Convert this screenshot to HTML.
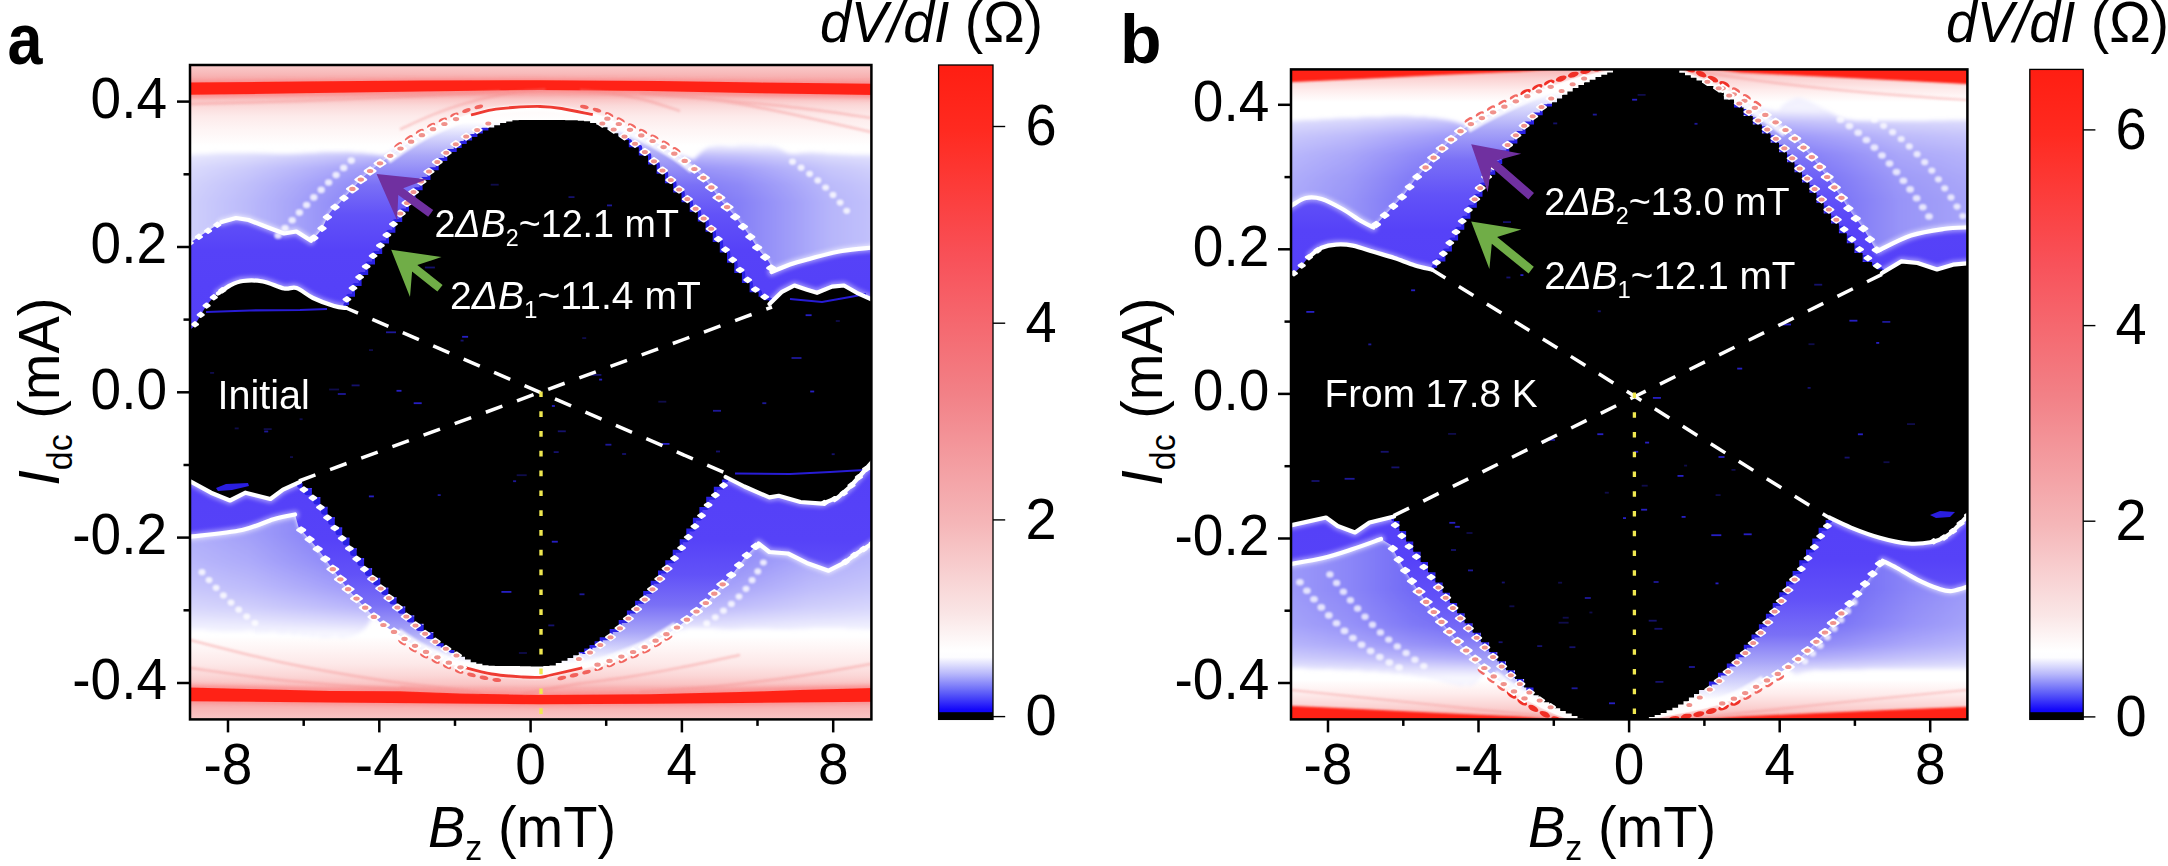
<!DOCTYPE html>
<html lang="en"><head><meta charset="utf-8"><title>dV/dI maps</title>
<style>html,body{margin:0;padding:0;background:#fff;}svg{display:block;}</style></head>
<body>
<svg width="2168" height="866" viewBox="0 0 2168 866">
<defs>
<linearGradient id="cbg" x1="0" y1="0" x2="0" y2="1"><stop offset="0" stop-color="#ff1e12"/><stop offset="0.10" stop-color="#ff2a20"/><stop offset="0.30" stop-color="#f8525a"/><stop offset="0.50" stop-color="#f28086"/><stop offset="0.70" stop-color="#f5b6b8"/><stop offset="0.84" stop-color="#fae6e6"/><stop offset="0.895" stop-color="#ffffff"/><stop offset="0.905" stop-color="#fdfdff"/><stop offset="0.93" stop-color="#b9b9fb"/><stop offset="0.96" stop-color="#5c5cf8"/><stop offset="0.985" stop-color="#1408fa"/><stop offset="1" stop-color="#0000f0"/></linearGradient>
<filter id="b2" x="-10%" y="-10%" width="120%" height="120%"><feGaussianBlur stdDeviation="2"/></filter><filter id="b1" x="-10%" y="-10%" width="120%" height="120%"><feGaussianBlur stdDeviation="1"/></filter><filter id="b05" x="-10%" y="-10%" width="120%" height="120%"><feGaussianBlur stdDeviation="0.6"/></filter><filter id="b4" x="-10%" y="-10%" width="120%" height="120%"><feGaussianBlur stdDeviation="4"/></filter><filter id="b6" x="-10%" y="-10%" width="120%" height="120%"><feGaussianBlur stdDeviation="6"/></filter><linearGradient id="bgA" gradientUnits="userSpaceOnUse" x1="0" y1="65" x2="0" y2="719.4"><stop offset="0.0000" stop-color="#f9cccc"/><stop offset="0.0138" stop-color="#f8b8b8"/><stop offset="0.0260" stop-color="#f7a4a4"/><stop offset="0.0458" stop-color="#f8b0b0"/><stop offset="0.0535" stop-color="#fac8c8"/><stop offset="0.0627" stop-color="#fbdada"/><stop offset="0.0779" stop-color="#fdeaea"/><stop offset="0.0993" stop-color="#fef5f5"/><stop offset="0.1238" stop-color="#ffffff"/><stop offset="0.8726" stop-color="#ffffff"/><stop offset="0.8939" stop-color="#fef4f4"/><stop offset="0.9153" stop-color="#fde8e8"/><stop offset="0.9337" stop-color="#fbd6d6"/><stop offset="0.9459" stop-color="#fac4c4"/><stop offset="0.9520" stop-color="#f8b0b0"/><stop offset="0.9749" stop-color="#f8aaaa"/><stop offset="0.9856" stop-color="#f9b8b8"/><stop offset="1.0000" stop-color="#fac6c6"/></linearGradient><linearGradient id="bandAU" gradientUnits="userSpaceOnUse" x1="0" y1="100" x2="0" y2="320"><stop offset="0.0000" stop-color="#fff4f4"/><stop offset="0.1000" stop-color="#ffffff"/><stop offset="0.1636" stop-color="#d8d8fc"/><stop offset="0.2545" stop-color="#a9a6f8"/><stop offset="0.3864" stop-color="#7a70f6"/><stop offset="0.5227" stop-color="#6252f8"/><stop offset="0.6818" stop-color="#5642f8"/><stop offset="1.0000" stop-color="#5440f8"/></linearGradient><linearGradient id="bandAL" gradientUnits="userSpaceOnUse" x1="0" y1="470" x2="0" y2="690"><stop offset="0.0000" stop-color="#5440f8"/><stop offset="0.3182" stop-color="#5642f8"/><stop offset="0.4773" stop-color="#6252f8"/><stop offset="0.6136" stop-color="#7a70f6"/><stop offset="0.7364" stop-color="#a9a6f8"/><stop offset="0.8182" stop-color="#d8d8fc"/><stop offset="0.8818" stop-color="#ffffff"/><stop offset="1.0000" stop-color="#fff0f0"/></linearGradient><linearGradient id="lbAUL" gradientUnits="userSpaceOnUse" x1="190" y1="0" x2="400" y2="0"><stop offset="0.0000" stop-color="#cfcffc"/><stop offset="0.2619" stop-color="#bcbbfa"/><stop offset="0.5000" stop-color="#a6a3f9"/><stop offset="0.7381" stop-color="#8e89f8"/><stop offset="1.0000" stop-color="#7771f6"/></linearGradient><linearGradient id="lbAUR" gradientUnits="userSpaceOnUse" x1="690" y1="0" x2="871" y2="0"><stop offset="0.0000" stop-color="#7770f6"/><stop offset="0.2762" stop-color="#8680f7"/><stop offset="0.5525" stop-color="#a09df9"/><stop offset="0.7735" stop-color="#b6b5fa"/><stop offset="1.0000" stop-color="#c2c1fb"/></linearGradient><linearGradient id="lbALL" gradientUnits="userSpaceOnUse" x1="190" y1="0" x2="380" y2="0"><stop offset="0.0000" stop-color="#b0aefa"/><stop offset="0.3158" stop-color="#a29ff9"/><stop offset="0.6316" stop-color="#8a85f8"/><stop offset="1.0000" stop-color="#6c64f6"/></linearGradient><linearGradient id="lbALR" gradientUnits="userSpaceOnUse" x1="680" y1="0" x2="871" y2="0"><stop offset="0.0000" stop-color="#6c64f6"/><stop offset="0.3665" stop-color="#8a85f8"/><stop offset="0.6806" stop-color="#a29ff9"/><stop offset="1.0000" stop-color="#b0aefa"/></linearGradient><linearGradient id="lbBLL" gradientUnits="userSpaceOnUse" x1="1291" y1="0" x2="1480" y2="0"><stop offset="0.0000" stop-color="#9c99f9"/><stop offset="0.3122" stop-color="#8b86f8"/><stop offset="0.6296" stop-color="#726bf6"/><stop offset="1.0000" stop-color="#5f56f5"/></linearGradient><linearGradient id="lbBLR" gradientUnits="userSpaceOnUse" x1="1790" y1="0" x2="1967" y2="0"><stop offset="0.0000" stop-color="#5f56f5"/><stop offset="0.3390" stop-color="#726bf6"/><stop offset="0.6780" stop-color="#8b86f8"/><stop offset="1.0000" stop-color="#9c99f9"/></linearGradient><linearGradient id="fadeDown" x1="0" y1="0" x2="0" y2="1"><stop offset="0" stop-color="#fff" stop-opacity="0"/><stop offset="1" stop-color="#fff" stop-opacity="0.9"/></linearGradient><linearGradient id="fadeUp" x1="0" y1="0" x2="0" y2="1"><stop offset="0" stop-color="#fff" stop-opacity="0.9"/><stop offset="1" stop-color="#fff" stop-opacity="0"/></linearGradient><linearGradient id="bgB" gradientUnits="userSpaceOnUse" x1="0" y1="69.4" x2="0" y2="719.4"><stop offset="0.0000" stop-color="#f9b4b4"/><stop offset="0.0148" stop-color="#fbd4d4"/><stop offset="0.0317" stop-color="#feecec"/><stop offset="0.0502" stop-color="#ffffff"/><stop offset="0.9394" stop-color="#ffffff"/><stop offset="0.9609" stop-color="#feecec"/><stop offset="0.9794" stop-color="#fbd4d4"/><stop offset="1.0000" stop-color="#f9b0b0"/></linearGradient><linearGradient id="bandBU" gradientUnits="userSpaceOnUse" x1="0" y1="70" x2="0" y2="300"><stop offset="0.0000" stop-color="#fff0f0"/><stop offset="0.0957" stop-color="#ffffff"/><stop offset="0.1652" stop-color="#d8d8fc"/><stop offset="0.2609" stop-color="#a9a6f8"/><stop offset="0.3913" stop-color="#7a70f6"/><stop offset="0.5435" stop-color="#6252f8"/><stop offset="0.6957" stop-color="#5642f8"/><stop offset="1.0000" stop-color="#5440f8"/></linearGradient><linearGradient id="bandBL" gradientUnits="userSpaceOnUse" x1="0" y1="500" x2="0" y2="719"><stop offset="0.0000" stop-color="#5440f8"/><stop offset="0.2740" stop-color="#5642f8"/><stop offset="0.4566" stop-color="#6252f8"/><stop offset="0.6164" stop-color="#7a70f6"/><stop offset="0.7397" stop-color="#a9a6f8"/><stop offset="0.8402" stop-color="#d8d8fc"/><stop offset="0.9132" stop-color="#ffffff"/><stop offset="1.0000" stop-color="#fff0f0"/></linearGradient><linearGradient id="lbBUL" gradientUnits="userSpaceOnUse" x1="1291" y1="0" x2="1470" y2="0"><stop offset="0.0000" stop-color="#aaa8fa"/><stop offset="0.3296" stop-color="#9894f8"/><stop offset="0.6648" stop-color="#7b74f7"/><stop offset="1.0000" stop-color="#625af6"/></linearGradient><linearGradient id="lbBUR" gradientUnits="userSpaceOnUse" x1="1780" y1="0" x2="1967" y2="0"><stop offset="0.0000" stop-color="#625af6"/><stop offset="0.3209" stop-color="#7b74f7"/><stop offset="0.6417" stop-color="#9894f8"/><stop offset="1.0000" stop-color="#a6a3f9"/></linearGradient><linearGradient id="fadeAU" gradientUnits="userSpaceOnUse" x1="0" y1="146" x2="0" y2="202"><stop offset="0.000" stop-color="#fff" stop-opacity="0.88"/><stop offset="0.179" stop-color="#fff" stop-opacity="0.5"/><stop offset="0.393" stop-color="#fff" stop-opacity="0.24"/><stop offset="0.679" stop-color="#fff" stop-opacity="0.08"/><stop offset="1.000" stop-color="#fff" stop-opacity="0.0"/></linearGradient><linearGradient id="fadeAL" gradientUnits="userSpaceOnUse" x1="0" y1="535" x2="0" y2="634"><stop offset="0.000" stop-color="#fff" stop-opacity="0.0"/><stop offset="0.273" stop-color="#fff" stop-opacity="0.12"/><stop offset="0.535" stop-color="#fff" stop-opacity="0.3"/><stop offset="0.737" stop-color="#fff" stop-opacity="0.5"/><stop offset="0.889" stop-color="#fff" stop-opacity="0.75"/><stop offset="1.000" stop-color="#fff" stop-opacity="0.95"/></linearGradient><linearGradient id="fadeBU" gradientUnits="userSpaceOnUse" x1="0" y1="110" x2="0" y2="200"><stop offset="0.000" stop-color="#fff" stop-opacity="0.92"/><stop offset="0.133" stop-color="#fff" stop-opacity="0.6"/><stop offset="0.289" stop-color="#fff" stop-opacity="0.36"/><stop offset="0.489" stop-color="#fff" stop-opacity="0.18"/><stop offset="0.756" stop-color="#fff" stop-opacity="0.06"/><stop offset="1.000" stop-color="#fff" stop-opacity="0.0"/></linearGradient><linearGradient id="fadeBL" gradientUnits="userSpaceOnUse" x1="0" y1="590" x2="0" y2="677"><stop offset="0.000" stop-color="#fff" stop-opacity="0.0"/><stop offset="0.402" stop-color="#fff" stop-opacity="0.1"/><stop offset="0.632" stop-color="#fff" stop-opacity="0.28"/><stop offset="0.793" stop-color="#fff" stop-opacity="0.52"/><stop offset="0.908" stop-color="#fff" stop-opacity="0.78"/><stop offset="1.000" stop-color="#fff" stop-opacity="0.95"/></linearGradient>
<clipPath id="clipA"><rect x="190.0" y="65.0" width="681.4" height="654.4"/></clipPath>
<clipPath id="clipB"><rect x="1291.0" y="69.4" width="676.4" height="650.0"/></clipPath>
</defs>
<rect width="2168" height="866" fill="#fff"/>
<g clip-path="url(#clipA)"><rect x="190.0" y="65.0" width="681.4" height="654.4" fill="url(#bgA)"/><g fill="#f77" opacity="0.55" filter="url(#b2)"><path d="M186.0 81.1L300.0 80.1L420.0 79.1L540.0 78.7L660.0 79.5L760.0 81.1L875.0 82.2L875.0 98.0L760.0 96.2L650.0 94.0L540.0 92.9L420.0 94.5L300.0 96.3L186.0 97.9Z"/><path d="M186.0 702.7L330.0 703.9L450.0 705.0L540.0 705.7L650.0 705.3L740.0 704.5L875.0 703.3L875.0 684.9L800.0 687.0L740.0 689.1L650.0 691.3L540.0 692.0L460.0 690.6L400.0 688.2L330.0 688.0L260.0 686.2L186.0 684.4Z"/></g><g fill="#ff2216" filter="url(#b05)"><path d="M186.0 82.6L300.0 81.6L420.0 80.6L540.0 80.2L660.0 81.0L760.0 82.6L875.0 83.7L875.0 95.0L760.0 93.2L650.0 91.0L540.0 89.9L420.0 91.5L300.0 93.3L186.0 94.9Z"/><path d="M186.0 701.2L330.0 702.4L450.0 703.5L540.0 704.2L650.0 703.8L740.0 703.0L875.0 701.8L875.0 687.9L800.0 690.0L740.0 692.1L650.0 694.3L540.0 695.0L460.0 693.6L400.0 691.2L330.0 691.0L260.0 689.2L186.0 687.4Z"/></g><g fill="none" stroke="#f58a8a" stroke-width="2.4" opacity="0.4" filter="url(#b1)"><path d="M400.0 129.5C405.3 127.1 421.2 119.3 432.0 115.0C442.8 110.7 451.2 107.4 464.7 103.6C478.2 99.8 499.5 94.6 513.0 92.3C526.5 90.0 540.1 90.0 545.5 89.5"/><path d="M680.0 111.0C674.2 109.2 656.7 103.0 645.0 100.0C633.3 97.0 620.8 94.7 610.0 93.0C599.2 91.3 585.0 90.5 580.0 90.0"/><path d="M190.0 104.0C208.3 103.5 261.7 102.3 300.0 101.0C338.3 99.7 386.7 97.7 420.0 96.0C453.3 94.3 486.7 91.8 500.0 91.0"/><path d="M871.0 118.0C859.2 116.3 825.2 111.0 800.0 108.0C774.8 105.0 746.7 102.5 720.0 100.0C693.3 97.5 653.3 94.2 640.0 93.0"/><path d="M871.0 132.0C859.2 129.3 821.8 120.7 800.0 116.0C778.2 111.3 758.3 107.2 740.0 104.0C721.7 100.8 698.3 98.2 690.0 97.0"/><path d="M523.0 693.5C532.2 691.9 560.8 686.5 578.0 683.8C595.2 681.1 609.3 680.0 626.3 677.3C643.3 674.6 661.0 671.3 680.0 667.6C699.0 663.9 730.0 657.1 740.0 655.0"/><path d="M400.0 687.0C406.7 687.6 426.7 689.6 440.0 690.5C453.3 691.4 473.3 692.2 480.0 692.5"/><path d="M190.0 640.0C205.0 643.7 248.3 655.3 280.0 662.0C311.7 668.7 348.3 675.2 380.0 680.0C411.7 684.8 455.0 689.2 470.0 691.0"/><path d="M190.0 668.0C205.0 670.0 248.3 676.7 280.0 680.0C311.7 683.3 353.3 686.2 380.0 688.0C406.7 689.8 430.0 690.5 440.0 691.0"/><path d="M871.0 664.0C859.2 666.0 825.2 672.3 800.0 676.0C774.8 679.7 746.7 683.3 720.0 686.0C693.3 688.7 653.3 691.0 640.0 692.0"/></g><g filter="url(#b2)"><path d="M180.0 156.0C188.3 155.5 211.7 153.3 230.0 153.0C248.3 152.7 271.7 154.2 290.0 154.0C308.3 153.8 324.2 151.7 340.0 152.0C355.8 152.3 377.5 155.3 385.0 156.0L429.5 131.0L406.6 144.5L387.9 157.5L371.3 170.0L360.9 179.5L350.5 191.0L340.0 202.4L329.7 213.0L321.4 229.4L311.0 240.8L311.0 240.8L296.4 231.5L284.0 233.5L267.3 227.3L248.6 220.0L236.0 218.0L221.6 222.0L207.0 231.5L188.0 244.0Z" fill="url(#lbAUL)"/><path d="M694.0 160.0C695.8 158.3 701.0 152.2 705.0 150.0C709.0 147.8 707.2 147.1 718.0 146.5C728.8 145.9 757.5 145.2 769.5 146.5C781.5 147.8 783.1 153.0 790.0 154.0C796.9 155.0 802.3 152.6 811.0 152.7C819.7 152.8 830.5 154.4 842.0 154.8C853.5 155.2 873.7 155.0 880.0 155.0L873.0 247.5L842.0 251.0L811.0 258.5L790.0 264.5L771.6 272.0L771.6 272.0L769.5 262.7L759.0 250.0L746.6 231.5L732.0 212.8L719.6 198.5L707.0 181.8L692.5 167.3L676.0 154.8Z" fill="url(#lbAUR)"/><path d="M180.0 630.0C195.6 630.3 247.5 630.8 273.5 632.0C299.5 633.2 321.2 637.3 336.0 637.0C350.8 636.7 356.0 633.5 362.0 630.0C368.0 626.5 370.3 618.3 372.0 616.0L379.5 622.0L364.0 606.5L348.3 589.4L332.7 569.0L320.0 552.0L311.0 541.0L298.5 527.0L295.0 514.5L295.0 514.5L273.5 519.2L242.0 530.0L188.0 537.0Z" fill="url(#lbALL)"/><path d="M672.0 632.0C675.0 631.3 675.3 628.5 690.0 628.0C704.7 627.5 738.3 629.0 760.0 629.0C781.7 629.0 800.0 628.0 820.0 628.0C840.0 628.0 870.0 628.8 880.0 629.0L873.0 543.0L856.7 553.5L844.0 562.9L828.6 570.7L806.8 562.9L788.0 553.5L769.4 552.0L758.5 543.5L758.5 543.5L744.4 558.0L735.0 570.7L719.5 587.8L707.0 601.8L691.4 615.9L675.9 628.3Z" fill="url(#lbALR)"/><path d="M180.0 156.0C188.3 155.5 211.7 153.3 230.0 153.0C248.3 152.7 271.7 154.2 290.0 154.0C308.3 153.8 324.2 151.7 340.0 152.0C355.8 152.3 377.5 155.3 385.0 156.0L429.5 131.0L406.6 144.5L387.9 157.5L371.3 170.0L360.9 179.5L350.5 191.0L340.0 202.4L329.7 213.0L321.4 229.4L311.0 240.8L311.0 240.8L296.4 231.5L284.0 233.5L267.3 227.3L248.6 220.0L236.0 218.0L221.6 222.0L207.0 231.5L188.0 244.0Z" fill="url(#fadeAU)"/><path d="M694.0 160.0C695.8 158.3 701.0 152.2 705.0 150.0C709.0 147.8 707.2 147.1 718.0 146.5C728.8 145.9 757.5 145.2 769.5 146.5C781.5 147.8 783.1 153.0 790.0 154.0C796.9 155.0 802.3 152.6 811.0 152.7C819.7 152.8 830.5 154.4 842.0 154.8C853.5 155.2 873.7 155.0 880.0 155.0L873.0 247.5L842.0 251.0L811.0 258.5L790.0 264.5L771.6 272.0L771.6 272.0L769.5 262.7L759.0 250.0L746.6 231.5L732.0 212.8L719.6 198.5L707.0 181.8L692.5 167.3L676.0 154.8Z" fill="url(#fadeAU)"/><path d="M180.0 630.0C195.6 630.3 247.5 630.8 273.5 632.0C299.5 633.2 321.2 637.3 336.0 637.0C350.8 636.7 356.0 633.5 362.0 630.0C368.0 626.5 370.3 618.3 372.0 616.0L379.5 622.0L364.0 606.5L348.3 589.4L332.7 569.0L320.0 552.0L311.0 541.0L298.5 527.0L295.0 514.5L295.0 514.5L273.5 519.2L242.0 530.0L188.0 537.0Z" fill="url(#fadeAL)"/><path d="M672.0 632.0C675.0 631.3 675.3 628.5 690.0 628.0C704.7 627.5 738.3 629.0 760.0 629.0C781.7 629.0 800.0 628.0 820.0 628.0C840.0 628.0 870.0 628.8 880.0 629.0L873.0 543.0L856.7 553.5L844.0 562.9L828.6 570.7L806.8 562.9L788.0 553.5L769.4 552.0L758.5 543.5L758.5 543.5L744.4 558.0L735.0 570.7L719.5 587.8L707.0 601.8L691.4 615.9L675.9 628.3Z" fill="url(#fadeAL)"/></g><path d="M188.0 244.0L207.0 231.5L221.6 222.0L236.0 218.0L248.6 220.0L267.3 227.3L284.0 233.5L296.4 231.5L311.0 240.8L311.0 240.8C312.7 238.9 318.3 234.0 321.4 229.4C324.5 224.8 326.6 217.5 329.7 213.0C332.8 208.5 336.5 206.1 340.0 202.4C343.5 198.7 347.0 194.8 350.5 191.0C354.0 187.2 357.4 183.0 360.9 179.5C364.4 176.0 366.8 173.7 371.3 170.0C375.8 166.3 382.0 161.8 387.9 157.5C393.8 153.2 399.7 148.9 406.6 144.5C413.5 140.1 422.2 134.8 429.5 131.0C436.8 127.2 443.4 124.4 450.3 121.5C457.2 118.6 464.1 115.7 471.0 113.5C477.9 111.3 484.9 109.5 491.8 108.3C498.7 107.0 504.6 106.5 512.6 106.0C520.6 105.5 535.4 105.2 540.0 105.0L561.6 107.0C566.8 108.0 584.1 110.8 592.8 113.2C601.5 115.6 606.7 118.4 613.6 121.5C620.5 124.6 627.4 128.5 634.3 132.0C641.2 135.5 648.0 138.5 655.0 142.3C662.0 146.1 669.8 150.6 676.0 154.8C682.2 159.0 687.3 162.8 692.5 167.3C697.7 171.8 702.5 176.6 707.0 181.8C711.5 187.0 715.4 193.3 719.6 198.5C723.8 203.7 727.5 207.3 732.0 212.8C736.5 218.3 742.1 225.3 746.6 231.5C751.1 237.7 755.2 244.8 759.0 250.0C762.8 255.2 767.4 259.0 769.5 262.7C771.6 266.4 771.2 270.4 771.6 272.0L790.0 264.5C793.5 263.5 802.3 260.8 811.0 258.5C819.7 256.2 831.7 252.8 842.0 251.0C852.3 249.2 867.8 248.1 873.0 247.5L873.0 330.0L188.0 330.0Z" fill="url(#bandAU)"/><path d="M188.0 537.0C197.0 535.8 227.8 533.0 242.0 530.0C256.2 527.0 264.7 521.8 273.5 519.2C282.3 516.6 291.4 515.3 295.0 514.5L298.5 527.0C300.6 529.3 307.4 536.8 311.0 541.0C314.6 545.2 316.4 547.3 320.0 552.0C323.6 556.7 328.0 562.8 332.7 569.0C337.4 575.2 343.1 583.1 348.3 589.4C353.5 595.6 358.8 601.1 364.0 606.5C369.2 611.9 373.8 617.3 379.5 622.0C385.2 626.7 391.9 630.4 398.2 634.6C404.4 638.8 410.8 643.4 417.0 647.0C423.2 650.6 428.4 653.0 435.6 656.4C442.9 659.8 451.1 664.2 460.5 667.3C469.9 670.4 481.3 673.2 491.7 675.0C502.1 676.8 515.0 677.5 523.0 678.0C531.0 678.5 537.2 678.2 540.0 678.3L551.0 676.0C556.2 674.8 571.9 671.6 582.3 668.9C592.7 666.1 603.1 663.1 613.5 659.5C623.9 655.9 636.9 650.6 644.7 647.0C652.5 643.4 655.1 640.8 660.3 637.7C665.5 634.6 670.7 631.9 675.9 628.3C681.1 624.7 686.2 620.3 691.4 615.9C696.6 611.5 702.3 606.5 707.0 601.8C711.7 597.1 714.8 593.0 719.5 587.8C724.2 582.6 730.9 575.7 735.0 570.7C739.1 565.7 740.5 562.5 744.4 558.0C748.3 553.5 756.1 545.9 758.5 543.5L769.4 552.0L788.0 553.5L806.8 562.9L828.6 570.7L844.0 562.9L856.7 553.5L873.0 543.0L873.0 470.0L188.0 470.0Z" fill="url(#bandAL)"/><g fill="none" stroke="#fff" stroke-width="8" stroke-linejoin="round" stroke-linecap="round" opacity="0.45" filter="url(#b2)"><path d="M218.0 293.5C220.0 292.2 225.8 287.6 230.0 285.5C234.2 283.4 237.5 281.7 243.0 281.0C248.5 280.3 256.2 280.2 263.0 281.5C269.8 282.8 278.4 287.4 284.0 288.5C289.6 289.6 291.7 286.4 296.5 288.0C301.3 289.6 306.8 295.0 313.0 298.0C319.2 301.0 328.4 304.3 334.0 306.0C339.6 307.7 344.2 307.7 346.3 308.0"/><path d="M769.5 304.0L782.0 291.8L794.4 285.5L807.0 289.7L817.0 292.8L832.0 286.6L844.0 285.5L856.8 292.8L873.0 300.0"/><path d="M873.0 461.0L862.9 472.5L850.4 486.5L838.0 497.4L822.4 503.6L800.5 502.0L778.7 495.8L769.4 497.4L744.4 486.5L725.7 477.0"/><path d="M300.0 481.8L283.0 489.6L270.4 499.0L245.5 492.7L230.0 500.5L211.0 492.7L188.0 480.0"/><path d="M221.6 222.0L236.0 218.0L248.6 220.0L267.3 227.3L284.0 233.5L296.4 231.5L311.0 240.8"/><path d="M771.6 272.0C774.7 270.8 783.4 266.8 790.0 264.5C796.6 262.2 802.3 260.8 811.0 258.5C819.7 256.2 831.7 252.8 842.0 251.0C852.3 249.2 867.8 248.1 873.0 247.5"/><path d="M188.0 537.0C197.0 535.8 227.8 533.0 242.0 530.0C256.2 527.0 264.7 521.8 273.5 519.2C282.3 516.6 291.4 515.3 295.0 514.5"/><path d="M758.5 543.5L769.4 552.0L788.0 553.5L806.8 562.9L828.6 570.7L844.0 562.9L856.7 553.5L873.0 543.0"/></g><g fill="none" stroke="#ffffff" stroke-width="7" opacity="0.8" filter="url(#b1)"><path d="M387.9 160.5C391.0 158.3 399.7 151.9 406.6 147.5C413.5 143.1 422.2 137.8 429.5 134.0C436.8 130.2 443.4 127.4 450.3 124.5C457.2 121.6 464.1 118.7 471.0 116.5C477.9 114.3 484.9 112.5 491.8 111.3C498.7 110.0 504.6 109.5 512.6 109.0C520.6 108.5 531.8 107.8 540.0 108.0C548.2 108.2 552.8 108.6 561.6 110.0C570.4 111.4 584.1 113.8 592.8 116.2C601.5 118.6 606.7 121.4 613.6 124.5C620.5 127.6 627.4 131.5 634.3 135.0C641.2 138.5 648.0 141.5 655.0 145.3C662.0 149.1 669.8 153.6 676.0 157.8C682.2 162.0 689.8 168.2 692.5 170.3"/><path d="M398.2 631.6C401.3 633.7 410.8 640.4 417.0 644.0C423.2 647.6 428.4 650.0 435.6 653.4C442.9 656.8 451.1 661.2 460.5 664.3C469.9 667.4 481.3 670.2 491.7 672.0C502.1 673.8 515.0 674.5 523.0 675.0C531.0 675.5 535.3 675.6 540.0 675.3C544.7 675.0 544.0 674.6 551.0 673.0C558.0 671.4 571.9 668.6 582.3 665.9C592.7 663.1 603.1 660.1 613.5 656.5C623.9 652.9 636.9 647.6 644.7 644.0C652.5 640.4 655.1 637.8 660.3 634.7C665.5 631.6 673.3 626.9 675.9 625.3"/></g><path d="M346.3 308.0L346.3 305.2L349.1 305.2L349.1 302.4L349.1 296.8L355.0 296.8L355.0 291.2L355.0 285.9L361.6 285.9L361.6 280.5L361.6 275.1L368.2 275.1L368.2 269.8L368.2 264.5L375.0 264.5L375.0 259.1L375.0 254.0L382.2 254.0L382.2 248.8L382.2 243.5L389.0 243.5L389.0 238.2L389.0 232.8L395.4 232.8L395.4 227.3L395.4 222.0L402.2 222.0L402.2 216.7L402.2 211.4L409.0 211.4L409.0 206.2L409.0 200.7L415.5 200.7L415.5 195.3L415.5 190.2L422.6 190.2L422.6 185.0L422.6 180.0L430.5 180.0L430.5 175.1L430.5 170.3L438.7 170.3L438.7 165.6L438.7 161.0L447.3 161.0L447.3 156.4L447.3 152.1L456.7 152.1L456.7 147.9L461.7 147.9L461.7 144.1L466.7 144.1L466.7 140.4L472.1 140.4L472.1 137.1L477.4 137.1L477.4 133.7L482.6 133.7L482.6 130.8L487.7 130.8L487.7 127.8M624.0 140.2L626.6 140.2L626.6 142.0L629.1 142.0L629.1 143.9L629.1 147.7L639.2 147.7L639.2 151.5L639.2 155.8L648.3 155.8L648.3 160.1L648.3 164.7L656.9 164.7L656.9 169.4L656.9 174.1L665.2 174.1L665.2 178.8L665.2 183.5L673.5 183.5L673.5 188.3L673.5 193.0L681.8 193.0L681.8 197.8L681.8 202.6L690.0 202.6L690.0 207.4L690.0 212.2L698.1 212.2L698.1 217.0L698.1 222.0L705.8 222.0L705.8 227.0L705.8 232.2L713.0 232.2L713.0 237.4L713.0 242.5L720.1 242.5L720.1 247.7L720.1 252.9L727.3 252.9L727.3 258.1L727.3 263.2L734.6 263.2L734.6 268.3L734.6 273.4L742.2 273.4L742.2 278.4L742.2 283.4L749.9 283.4L749.9 288.4L749.9 292.7L759.0 292.7L759.0 297.0L764.3 297.0L764.3 300.5L769.5 300.5L769.5 304.0L769.5 304.0L769.5 304.0L769.5 304.0L769.5 304.0M725.7 477.0L725.7 479.5L721.9 479.5L721.9 482.0L721.9 486.8L713.8 486.8L713.8 491.7L713.8 496.7L706.2 496.7L706.2 501.7L706.2 507.0L699.4 507.0L699.4 512.3L699.4 517.7L692.9 517.7L692.9 523.1L692.9 528.5L686.3 528.5L686.3 533.8L686.3 539.2L679.7 539.2L679.7 544.6L679.7 549.8L672.7 549.8L672.7 555.1L672.7 560.2L665.3 560.2L665.3 565.3L665.3 570.4L658.0 570.4L658.0 575.5L658.0 580.7L650.7 580.7L650.7 585.8L650.7 590.9L643.2 590.9L643.2 595.9L643.2 600.8L635.1 600.8L635.1 605.6L635.1 610.4L626.9 610.4L626.9 615.1L626.9 619.9L618.7 619.9L618.7 624.7L618.7 629.1L609.7 629.1L609.7 633.5L609.7 637.3L599.7 637.3L599.7 641.2L594.5 641.2L594.5 644.8L589.4 644.8L589.4 648.5L585.9 648.5L585.9 650.9L582.3 650.9L582.3 653.3M454.3 650.0L451.6 650.0L451.6 648.3L449.0 648.3L449.0 646.6L443.7 646.6L443.7 643.2L438.4 643.2L438.4 639.7L438.4 635.9L428.4 635.9L428.4 632.1L428.4 627.9L418.9 627.9L418.9 623.8L418.9 619.5L409.7 619.5L409.7 615.2L409.7 610.7L400.9 610.7L400.9 606.2L400.9 601.6L392.4 601.6L392.4 596.9L392.4 592.1L384.3 592.1L384.3 587.3L384.3 582.5L376.1 582.5L376.1 577.7L376.1 572.9L368.0 572.9L368.0 568.0L368.0 563.1L360.3 563.1L360.3 558.1L360.3 552.9L353.1 552.9L353.1 547.8L353.1 542.6L345.8 542.6L345.8 537.5L345.8 532.3L338.5 532.3L338.5 527.2L338.5 522.1L331.1 522.1L331.1 517.0L331.1 511.8L324.0 511.8L324.0 506.6L324.0 501.6L316.3 501.6L316.3 496.6L316.3 492.3L307.2 492.3L307.2 487.9L307.2 484.9L300.0 484.9L300.0 481.8" fill="none" stroke="#2c20e4" stroke-width="6" stroke-linejoin="round" filter="url(#b05)"/><path d="M188.0 330.0C189.0 329.3 190.8 330.2 194.0 326.0C197.2 321.8 203.0 310.4 207.0 305.0C211.0 299.6 214.2 296.8 218.0 293.5C221.8 290.2 225.8 287.6 230.0 285.5C234.2 283.4 237.5 281.7 243.0 281.0C248.5 280.3 256.2 280.2 263.0 281.5C269.8 282.8 278.4 287.4 284.0 288.5C289.6 289.6 291.7 286.4 296.5 288.0C301.3 289.6 306.8 295.0 313.0 298.0C319.2 301.0 328.4 304.3 334.0 306.0C339.6 307.7 344.2 307.7 346.3 308.0L346.3 308.0L346.3 305.2L349.1 305.2L349.1 302.4L349.1 296.8L355.0 296.8L355.0 291.2L355.0 285.9L361.6 285.9L361.6 280.5L361.6 275.1L368.2 275.1L368.2 269.8L368.2 264.5L375.0 264.5L375.0 259.1L375.0 254.0L382.2 254.0L382.2 248.8L382.2 243.5L389.0 243.5L389.0 238.2L389.0 232.8L395.4 232.8L395.4 227.3L395.4 222.0L402.2 222.0L402.2 216.7L402.2 211.4L409.0 211.4L409.0 206.2L409.0 200.7L415.5 200.7L415.5 195.3L415.5 190.2L422.6 190.2L422.6 185.0L422.6 180.0L430.5 180.0L430.5 175.1L430.5 170.3L438.7 170.3L438.7 165.6L438.7 161.0L447.3 161.0L447.3 156.4L447.3 152.1L456.7 152.1L456.7 147.9L461.7 147.9L461.7 144.1L466.7 144.1L466.7 140.4L472.1 140.4L472.1 137.0L477.4 137.0L477.4 133.6L482.9 133.6L482.9 130.5L488.4 130.5L488.4 127.5L494.2 127.5L494.2 125.2L500.1 125.2L500.1 122.9L506.2 122.9L506.2 121.6L512.4 121.6L512.4 120.2L518.7 120.2L518.7 120.1L525.0 120.1L525.0 119.9L531.3 119.9L531.3 119.9L537.6 119.9L537.6 120.0L538.8 120.0L538.8 120.0L540.0 120.0L540.0 120.0L540.0 120.0L543.1 120.0L543.1 120.0L546.3 120.0L546.3 120.0L552.6 120.0L552.6 120.1L558.9 120.1L558.9 120.1L565.2 120.1L565.2 120.2L571.5 120.2L571.5 120.3L577.8 120.3L577.8 120.8L584.1 120.8L584.1 121.2L590.1 121.2L590.1 122.9L596.2 122.9L596.2 124.5L601.9 124.5L601.9 127.2L607.5 127.2L607.5 130.0L612.9 130.0L612.9 133.2L618.3 133.2L618.3 136.5L623.6 136.5L623.6 140.0L628.8 140.0L628.8 143.5L628.8 147.3L638.8 147.3L638.8 151.1L638.8 155.5L648.0 155.5L648.0 159.8L648.0 164.4L656.6 164.4L656.6 169.0L656.6 173.7L664.9 173.7L664.9 178.4L664.9 183.2L673.2 183.2L673.2 187.9L673.2 192.6L681.5 192.6L681.5 197.4L681.5 202.2L689.7 202.2L689.7 207.0L689.7 211.8L697.8 211.8L697.8 216.6L697.8 221.6L705.5 221.6L705.5 226.6L705.5 231.8L712.7 231.8L712.7 236.9L712.7 242.1L719.8 242.1L719.8 247.3L719.8 252.5L727.0 252.5L727.0 257.7L727.0 262.8L734.3 262.8L734.3 267.9L734.3 273.0L741.9 273.0L741.9 278.0L741.9 283.0L749.6 283.0L749.6 288.0L749.6 292.3L758.6 292.3L758.6 296.7L763.8 296.7L763.8 300.2L769.1 300.2L769.1 303.7L769.3 303.7L769.3 303.9L769.5 303.9L769.5 304.0L782.0 291.8L794.4 285.5L807.0 289.7L817.0 292.8L832.0 286.6L844.0 285.5L856.8 292.8L873.0 300.0L873.0 461.0L862.9 472.5L850.4 486.5L838.0 497.4L822.4 503.6L800.5 502.0L778.7 495.8L769.4 497.4L744.4 486.5L725.7 477.0L725.7 477.0L725.7 479.5L721.9 479.5L721.9 482.0L721.9 486.8L713.8 486.8L713.8 491.7L713.8 496.7L706.2 496.7L706.2 501.7L706.2 507.0L699.4 507.0L699.4 512.3L699.4 517.7L692.9 517.7L692.9 523.1L692.9 528.5L686.3 528.5L686.3 533.8L686.3 539.2L679.7 539.2L679.7 544.6L679.7 549.8L672.7 549.8L672.7 555.1L672.7 560.2L665.3 560.2L665.3 565.3L665.3 570.4L658.0 570.4L658.0 575.5L658.0 580.7L650.7 580.7L650.7 585.8L650.7 590.9L643.2 590.9L643.2 595.9L643.2 600.8L635.1 600.8L635.1 605.6L635.1 610.4L626.9 610.4L626.9 615.1L626.9 619.9L618.7 619.9L618.7 624.7L618.7 629.1L609.7 629.1L609.7 633.5L609.7 637.3L599.7 637.3L599.7 641.2L594.6 641.2L594.6 644.9L589.5 644.9L589.5 648.6L584.2 648.6L584.2 651.9L578.8 651.9L578.8 655.3L573.2 655.3L573.2 658.0L567.5 658.0L567.5 660.7L561.6 660.7L561.6 663.1L555.8 663.1L555.8 665.4L549.5 665.4L549.5 666.0L543.3 666.0L543.3 666.5L537.0 666.5L537.0 666.4L530.7 666.4L530.7 666.3L525.3 666.3L525.3 666.2L520.0 666.2L520.0 666.0L520.0 666.0L516.9 666.0L516.9 666.0L513.7 666.0L513.7 666.1L507.4 666.1L507.4 666.1L501.1 666.1L501.1 666.1L494.8 666.1L494.8 665.7L488.5 665.7L488.5 665.3L482.4 665.3L482.4 663.8L476.3 663.8L476.3 662.3L470.7 662.3L470.7 659.6L465.0 659.6L465.0 656.8L459.7 656.8L459.7 653.4L454.4 653.4L454.4 650.1L449.1 650.1L449.1 646.7L443.7 646.7L443.7 643.3L438.6 643.3L438.6 639.7L433.4 639.7L433.4 636.1L433.4 632.1L423.7 632.1L423.7 628.1L423.7 623.8L414.3 623.8L414.3 619.6L414.3 615.2L405.3 615.2L405.3 610.8L405.3 606.3L396.6 606.3L396.6 601.7L396.6 596.9L388.4 596.9L388.4 592.2L388.4 587.4L380.3 587.4L380.3 582.5L380.3 577.7L372.1 577.7L372.1 573.0L372.1 568.1L364.1 568.1L364.1 563.2L364.1 558.1L356.7 558.1L356.7 553.0L356.7 547.9L349.5 547.9L349.5 542.7L349.5 537.6L342.2 537.6L342.2 532.4L342.2 527.3L334.8 527.3L334.8 522.2L334.8 517.0L327.6 517.0L327.6 511.9L327.6 506.7L320.4 506.7L320.4 501.6L320.4 496.9L311.9 496.9L311.9 492.2L311.9 488.1L302.5 488.1L302.5 483.9L302.5 482.9L300.0 482.9L300.0 481.8L283.0 489.6L270.4 499.0L245.5 492.7L230.0 500.5L211.0 492.7L188.0 480.0Z" fill="#000"/><g fill="#2a22d8"><rect x="234.7" y="427.5" width="4" height="1.8" opacity="0.35"/><rect x="582.2" y="337.2" width="4" height="1.8" opacity="0.35"/><rect x="568.5" y="196.2" width="6" height="1.8" opacity="0.5"/><rect x="557.8" y="430.4" width="8" height="1.8" opacity="0.5"/><rect x="264.2" y="430.6" width="4" height="1.8" opacity="0.7"/><rect x="551.8" y="540.8" width="6" height="1.8" opacity="0.9"/><rect x="396.5" y="389.9" width="5" height="1.8" opacity="0.9"/><rect x="579.5" y="593.4" width="5" height="1.8" opacity="0.7"/><rect x="661.5" y="443.0" width="8" height="1.8" opacity="0.9"/><rect x="513.1" y="480.3" width="3" height="1.8" opacity="0.7"/><rect x="386.0" y="331.4" width="10" height="1.8" opacity="0.7"/><rect x="210.1" y="372.0" width="4" height="1.8" opacity="0.35"/><rect x="810.2" y="390.6" width="4" height="1.8" opacity="0.9"/><rect x="351.6" y="384.5" width="8" height="1.8" opacity="0.5"/><rect x="553.7" y="451.2" width="5" height="1.8" opacity="0.5"/><rect x="658.3" y="400.8" width="8" height="1.8" opacity="0.35"/><rect x="501.4" y="591.0" width="10" height="1.8" opacity="0.9"/><rect x="462.1" y="335.9" width="6" height="1.8" opacity="0.9"/><rect x="490.7" y="183.8" width="8" height="1.8" opacity="0.35"/><rect x="263.7" y="428.2" width="8" height="1.8" opacity="0.35"/><rect x="831.7" y="453.3" width="3" height="1.8" opacity="0.5"/><rect x="607.0" y="204.5" width="5" height="1.8" opacity="0.7"/><rect x="599.1" y="378.7" width="3" height="1.8" opacity="0.9"/><rect x="424.9" y="266.6" width="10" height="1.8" opacity="0.5"/><rect x="437.7" y="494.2" width="3" height="1.8" opacity="0.7"/><rect x="762.3" y="402.3" width="4" height="1.8" opacity="0.7"/><rect x="713.0" y="409.9" width="8" height="1.8" opacity="0.7"/><rect x="622.1" y="453.1" width="4" height="1.8" opacity="0.5"/><rect x="329.1" y="388.6" width="10" height="1.8" opacity="0.35"/><rect x="368.9" y="495.5" width="5" height="1.8" opacity="0.9"/><rect x="835.8" y="320.1" width="4" height="1.8" opacity="0.35"/><rect x="518.9" y="652.1" width="8" height="1.8" opacity="0.35"/><rect x="516.7" y="474.3" width="10" height="1.8" opacity="0.35"/><rect x="791.5" y="357.1" width="10" height="1.8" opacity="0.7"/><rect x="460.6" y="339.7" width="3" height="1.8" opacity="0.5"/><rect x="591.4" y="374.0" width="10" height="1.8" opacity="0.5"/><rect x="605.4" y="443.8" width="6" height="1.8" opacity="0.7"/><rect x="299.6" y="418.3" width="3" height="1.8" opacity="0.35"/><rect x="548.3" y="624.5" width="6" height="1.8" opacity="0.5"/><rect x="337.8" y="393.1" width="8" height="1.8" opacity="0.7"/><rect x="369.0" y="349.2" width="4" height="1.8" opacity="0.35"/><rect x="805.6" y="314.3" width="6" height="1.8" opacity="0.9"/><rect x="551.9" y="405.1" width="3" height="1.8" opacity="0.9"/><rect x="716.0" y="450.6" width="4" height="1.8" opacity="0.5"/><rect x="290.0" y="456.2" width="3" height="1.8" opacity="0.35"/><rect x="413.7" y="402.3" width="8" height="1.8" opacity="0.9"/></g><g stroke="#2a1ee0" stroke-width="2.2" fill="none" opacity="0.95"><path d="M206 312 L250 310.5 L300 310 L327 309"/><path d="M790 299 L822 302 L850 297 L866 294"/><path d="M735 473.5 L790 474 L830 472 L864 470"/></g><path d="M216 488 L226 484 L248 483 L249 486 L232 490 L218 491Z" fill="#2a1ee0"/><g fill="none" stroke="#fff" stroke-width="4.2" stroke-linejoin="round" stroke-linecap="round" filter="url(#b05)"><path d="M218.0 293.5C220.0 292.2 225.8 287.6 230.0 285.5C234.2 283.4 237.5 281.7 243.0 281.0C248.5 280.3 256.2 280.2 263.0 281.5C269.8 282.8 278.4 287.4 284.0 288.5C289.6 289.6 291.7 286.4 296.5 288.0C301.3 289.6 306.8 295.0 313.0 298.0C319.2 301.0 328.4 304.3 334.0 306.0C339.6 307.7 344.2 307.7 346.3 308.0"/><path d="M769.5 304.0L782.0 291.8L794.4 285.5L807.0 289.7L817.0 292.8L832.0 286.6L844.0 285.5L856.8 292.8L873.0 300.0"/><path d="M873.0 461.0L862.9 472.5L850.4 486.5L838.0 497.4L822.4 503.6L800.5 502.0L778.7 495.8L769.4 497.4L744.4 486.5L725.7 477.0"/><path d="M300.0 481.8L283.0 489.6L270.4 499.0L245.5 492.7L230.0 500.5L211.0 492.7L188.0 480.0"/><path d="M221.6 222.0L236.0 218.0L248.6 220.0L267.3 227.3L284.0 233.5L296.4 231.5L311.0 240.8"/><path d="M771.6 272.0C774.7 270.8 783.4 266.8 790.0 264.5C796.6 262.2 802.3 260.8 811.0 258.5C819.7 256.2 831.7 252.8 842.0 251.0C852.3 249.2 867.8 248.1 873.0 247.5"/><path d="M188.0 537.0C197.0 535.8 227.8 533.0 242.0 530.0C256.2 527.0 264.7 521.8 273.5 519.2C282.3 516.6 291.4 515.3 295.0 514.5"/><path d="M758.5 543.5L769.4 552.0L788.0 553.5L806.8 562.9L828.6 570.7L844.0 562.9L856.7 553.5L873.0 543.0"/></g><g fill="none" stroke="#ee3a32" stroke-width="2.8" filter="url(#b05)"><path d="M471.0 115.0C474.5 114.1 484.9 111.0 491.8 109.8C498.7 108.5 504.6 108.0 512.6 107.5C520.6 107.0 531.8 106.3 540.0 106.5C548.2 106.7 552.8 107.1 561.6 108.5C570.4 109.9 587.6 113.7 592.8 114.7"/><path d="M460.5 666.3C465.7 667.6 481.3 672.2 491.7 674.0C502.1 675.8 515.0 676.5 523.0 677.0C531.0 677.5 535.3 677.6 540.0 677.3C544.7 677.0 544.0 676.6 551.0 675.0C558.0 673.4 577.1 669.1 582.3 667.9"/></g><g filter="url(#b05)"><g fill="#ee3a32" opacity="0.75"><ellipse cx="398.1" cy="145.1" rx="4.4" ry="2.0" transform="rotate(-34 398.1 145.1)"/><ellipse cx="408.8" cy="138.1" rx="4.4" ry="2.0" transform="rotate(-32 408.8 138.1)"/><ellipse cx="419.8" cy="131.6" rx="4.4" ry="2.0" transform="rotate(-30 419.8 131.6)"/><ellipse cx="431.1" cy="125.5" rx="4.4" ry="2.0" transform="rotate(-27 431.1 125.5)"/><ellipse cx="442.8" cy="120.1" rx="4.4" ry="2.0" transform="rotate(-23 442.8 120.1)"/><ellipse cx="454.4" cy="115.2" rx="4.4" ry="2.0" transform="rotate(-22 454.4 115.2)"/><ellipse cx="466.4" cy="110.6" rx="4.4" ry="2.0" transform="rotate(-19 466.4 110.6)"/><ellipse cx="478.8" cy="106.9" rx="4.4" ry="2.0" transform="rotate(-14 478.8 106.9)"/></g><g fill="#ee3a32" opacity="0.75"><ellipse cx="676.6" cy="150.2" rx="4.4" ry="2.0" transform="rotate(-147 676.6 150.2)"/><ellipse cx="665.7" cy="143.5" rx="4.4" ry="2.0" transform="rotate(-150 665.7 143.5)"/><ellipse cx="654.5" cy="137.3" rx="4.4" ry="2.0" transform="rotate(-152 654.5 137.3)"/><ellipse cx="643.1" cy="131.6" rx="4.4" ry="2.0" transform="rotate(-154 643.1 131.6)"/><ellipse cx="632.0" cy="126.1" rx="4.4" ry="2.0" transform="rotate(-152 632.0 126.1)"/><ellipse cx="620.7" cy="120.2" rx="4.4" ry="2.0" transform="rotate(-153 620.7 120.2)"/><ellipse cx="609.2" cy="114.8" rx="4.4" ry="2.0" transform="rotate(-155 609.2 114.8)"/><ellipse cx="597.0" cy="110.1" rx="4.4" ry="2.0" transform="rotate(-162 597.0 110.1)"/><ellipse cx="584.4" cy="106.9" rx="4.4" ry="2.0" transform="rotate(-168 584.4 106.9)"/></g><g fill="#ee3a32" opacity="0.75"><ellipse cx="402.1" cy="642.3" rx="4.4" ry="2.0" transform="rotate(34 402.1 642.3)"/><ellipse cx="412.8" cy="649.4" rx="4.4" ry="2.0" transform="rotate(32 412.8 649.4)"/><ellipse cx="424.2" cy="655.6" rx="4.4" ry="2.0" transform="rotate(26 424.2 655.6)"/><ellipse cx="435.6" cy="661.1" rx="4.4" ry="2.0" transform="rotate(25 435.6 661.1)"/><ellipse cx="447.1" cy="666.5" rx="4.4" ry="2.0" transform="rotate(24 447.1 666.5)"/><ellipse cx="459.2" cy="671.3" rx="4.4" ry="2.0" transform="rotate(18 459.2 671.3)"/><ellipse cx="471.5" cy="674.9" rx="4.4" ry="2.0" transform="rotate(15 471.5 674.9)"/><ellipse cx="484.0" cy="677.8" rx="4.4" ry="2.0" transform="rotate(12 484.0 677.8)"/><ellipse cx="496.8" cy="680.0" rx="4.4" ry="2.0" transform="rotate(7 496.8 680.0)"/></g><g fill="#ee3a32" opacity="0.75"><ellipse cx="668.4" cy="637.8" rx="4.4" ry="2.0" transform="rotate(150 668.4 637.8)"/><ellipse cx="657.9" cy="644.2" rx="4.4" ry="2.0" transform="rotate(146 657.9 644.2)"/><ellipse cx="646.4" cy="650.8" rx="4.4" ry="2.0" transform="rotate(155 646.4 650.8)"/><ellipse cx="634.7" cy="655.9" rx="4.4" ry="2.0" transform="rotate(158 634.7 655.9)"/><ellipse cx="622.9" cy="660.6" rx="4.4" ry="2.0" transform="rotate(160 622.9 660.6)"/><ellipse cx="610.9" cy="664.8" rx="4.4" ry="2.0" transform="rotate(161 610.9 664.8)"/><ellipse cx="598.7" cy="668.7" rx="4.4" ry="2.0" transform="rotate(164 598.7 668.7)"/><ellipse cx="586.5" cy="672.1" rx="4.4" ry="2.0" transform="rotate(165 586.5 672.1)"/><ellipse cx="574.1" cy="675.2" rx="4.4" ry="2.0" transform="rotate(167 574.1 675.2)"/><ellipse cx="561.8" cy="678.0" rx="4.4" ry="2.0" transform="rotate(168 561.8 678.0)"/></g></g><g filter="url(#b05)"><g fill="#fff" opacity="1.0" stroke="#fff" stroke-width="2.2" stroke-linejoin="round"><path d="M310.2 238.0L313.8 235.5L317.4 238.0L313.8 240.5Z"/><path d="M318.4 228.4L322.0 225.9L325.6 228.4L322.0 230.9Z"/><path d="M323.8 217.1L327.4 214.6L331.0 217.1L327.4 219.6Z"/><path d="M331.4 207.1L335.0 204.6L338.6 207.1L335.0 209.6Z"/><path d="M340.3 198.2L343.9 195.7L347.5 198.2L343.9 200.7Z"/></g><g fill="#fff" opacity="1.0" stroke="#fff" stroke-width="2.2" stroke-linejoin="round"><path d="M347.0 188.9L352.4 185.3L357.8 188.9L352.4 192.5Z"/><path d="M355.4 179.6L360.8 176.0L366.2 179.6L360.8 183.2Z"/><path d="M364.7 171.0L370.1 167.4L375.5 171.0L370.1 174.6Z"/><path d="M374.6 163.3L380.0 159.7L385.4 163.3L380.0 166.9Z"/><path d="M384.8 155.8L390.2 152.2L395.6 155.8L390.2 159.4Z"/><path d="M395.1 148.5L400.5 144.9L405.9 148.5L400.5 152.1Z"/><path d="M405.7 141.7L411.1 138.1L416.5 141.7L411.1 145.3Z"/><path d="M416.5 135.2L421.9 131.6L427.3 135.2L421.9 138.8Z"/><path d="M427.6 129.2L433.0 125.6L438.4 129.2L433.0 132.8Z"/><path d="M439.0 124.0L444.4 120.4L449.8 124.0L444.4 127.6Z"/><path d="M450.6 119.1L456.0 115.5L461.4 119.1L456.0 122.7Z"/></g><g fill="#f0928c"><ellipse cx="352.4" cy="188.9" rx="3.2" ry="2.1"/><ellipse cx="360.8" cy="179.6" rx="3.2" ry="2.1"/><ellipse cx="370.1" cy="171.0" rx="3.2" ry="2.1"/><ellipse cx="380.0" cy="163.3" rx="3.2" ry="2.1"/><ellipse cx="390.2" cy="155.8" rx="3.2" ry="2.1"/><ellipse cx="400.5" cy="148.5" rx="3.2" ry="2.1"/><ellipse cx="411.1" cy="141.7" rx="3.2" ry="2.1"/><ellipse cx="421.9" cy="135.2" rx="3.2" ry="2.1"/><ellipse cx="433.0" cy="129.2" rx="3.2" ry="2.1"/><ellipse cx="444.4" cy="124.0" rx="3.2" ry="2.1"/><ellipse cx="456.0" cy="119.1" rx="3.2" ry="2.1"/></g><g fill="#fff" opacity="1.0" stroke="#fff" stroke-width="2.2" stroke-linejoin="round"><path d="M767.2 268.0L771.2 265.3L775.2 268.0L771.2 270.7Z"/><path d="M761.2 257.2L765.2 254.5L769.2 257.2L765.2 259.9Z"/><path d="M753.2 247.5L757.2 244.8L761.2 247.5L757.2 250.2Z"/><path d="M746.3 236.9L750.3 234.2L754.3 236.9L750.3 239.6Z"/><path d="M739.0 226.7L743.0 224.0L747.0 226.7L743.0 229.4Z"/><path d="M731.2 216.8L735.2 214.1L739.2 216.8L735.2 219.5Z"/></g><g fill="#fff" opacity="1.0" stroke="#fff" stroke-width="2.2" stroke-linejoin="round"><path d="M721.7 207.1L727.1 203.5L732.5 207.1L727.1 210.7Z"/><path d="M713.5 197.6L718.9 194.0L724.3 197.6L718.9 201.2Z"/><path d="M706.0 187.4L711.4 183.8L716.8 187.4L711.4 191.0Z"/><path d="M698.0 177.8L703.4 174.2L708.8 177.8L703.4 181.4Z"/><path d="M689.0 169.0L694.4 165.4L699.8 169.0L694.4 172.6Z"/><path d="M679.3 160.9L684.7 157.3L690.1 160.9L684.7 164.5Z"/><path d="M668.9 153.7L674.3 150.1L679.7 153.7L674.3 157.3Z"/><path d="M658.2 147.1L663.6 143.5L669.0 147.1L663.6 150.7Z"/><path d="M647.2 141.0L652.6 137.4L658.0 141.0L652.6 144.6Z"/><path d="M635.9 135.4L641.3 131.8L646.7 135.4L641.3 139.0Z"/><path d="M624.6 129.8L630.0 126.2L635.4 129.8L630.0 133.4Z"/><path d="M613.4 124.0L618.8 120.4L624.2 124.0L618.8 127.6Z"/><path d="M602.0 118.7L607.4 115.1L612.8 118.7L607.4 122.3Z"/></g><g fill="#f0928c"><ellipse cx="727.1" cy="207.1" rx="3.2" ry="2.1"/><ellipse cx="718.9" cy="197.6" rx="3.2" ry="2.1"/><ellipse cx="711.4" cy="187.4" rx="3.2" ry="2.1"/><ellipse cx="703.4" cy="177.8" rx="3.2" ry="2.1"/><ellipse cx="694.4" cy="169.0" rx="3.2" ry="2.1"/><ellipse cx="684.7" cy="160.9" rx="3.2" ry="2.1"/><ellipse cx="674.3" cy="153.7" rx="3.2" ry="2.1"/><ellipse cx="663.6" cy="147.1" rx="3.2" ry="2.1"/><ellipse cx="652.6" cy="141.0" rx="3.2" ry="2.1"/><ellipse cx="641.3" cy="135.4" rx="3.2" ry="2.1"/><ellipse cx="630.0" cy="129.8" rx="3.2" ry="2.1"/><ellipse cx="618.8" cy="124.0" rx="3.2" ry="2.1"/><ellipse cx="607.4" cy="118.7" rx="3.2" ry="2.1"/></g><g fill="#fff" opacity="1.0" stroke="#fff" stroke-width="2.2" stroke-linejoin="round"><path d="M297.2 530.0L301.2 527.3L305.2 530.0L301.2 532.7Z"/><path d="M305.6 539.4L309.6 536.7L313.6 539.4L309.6 542.1Z"/><path d="M313.7 549.0L317.7 546.3L321.7 549.0L317.7 551.7Z"/><path d="M321.3 559.0L325.3 556.3L329.3 559.0L325.3 561.7Z"/></g><g fill="#fff" opacity="1.0" stroke="#fff" stroke-width="2.2" stroke-linejoin="round"><path d="M327.4 569.2L332.8 565.6L338.2 569.2L332.8 572.8Z"/><path d="M335.0 579.3L340.4 575.7L345.8 579.3L340.4 582.9Z"/><path d="M342.7 589.2L348.1 585.6L353.5 589.2L348.1 592.8Z"/><path d="M351.1 598.6L356.5 595.0L361.9 598.6L356.5 602.2Z"/><path d="M359.8 607.7L365.2 604.1L370.6 607.7L365.2 611.3Z"/><path d="M368.5 616.9L373.9 613.3L379.3 616.9L373.9 620.5Z"/><path d="M378.0 625.0L383.4 621.4L388.8 625.0L383.4 628.6Z"/><path d="M388.6 631.9L394.0 628.3L399.4 631.9L394.0 635.5Z"/><path d="M399.1 638.9L404.5 635.3L409.9 638.9L404.5 642.5Z"/><path d="M409.6 645.8L415.0 642.2L420.4 645.8L415.0 649.4Z"/><path d="M420.6 651.9L426.0 648.3L431.4 651.9L426.0 655.5Z"/><path d="M432.0 657.3L437.4 653.7L442.8 657.3L437.4 660.9Z"/><path d="M443.4 662.7L448.8 659.1L454.2 662.7L448.8 666.3Z"/><path d="M455.1 667.3L460.5 663.7L465.9 667.3L460.5 670.9Z"/></g><g fill="#f0928c"><ellipse cx="332.8" cy="569.2" rx="3.2" ry="2.1"/><ellipse cx="340.4" cy="579.3" rx="3.2" ry="2.1"/><ellipse cx="348.1" cy="589.2" rx="3.2" ry="2.1"/><ellipse cx="356.5" cy="598.6" rx="3.2" ry="2.1"/><ellipse cx="365.2" cy="607.7" rx="3.2" ry="2.1"/><ellipse cx="373.9" cy="616.9" rx="3.2" ry="2.1"/><ellipse cx="383.4" cy="625.0" rx="3.2" ry="2.1"/><ellipse cx="394.0" cy="631.9" rx="3.2" ry="2.1"/><ellipse cx="404.5" cy="638.9" rx="3.2" ry="2.1"/><ellipse cx="415.0" cy="645.8" rx="3.2" ry="2.1"/><ellipse cx="426.0" cy="651.9" rx="3.2" ry="2.1"/><ellipse cx="437.4" cy="657.3" rx="3.2" ry="2.1"/><ellipse cx="448.8" cy="662.7" rx="3.2" ry="2.1"/><ellipse cx="460.5" cy="667.3" rx="3.2" ry="2.1"/></g><g fill="#fff" opacity="1.0" stroke="#fff" stroke-width="2.2" stroke-linejoin="round"><path d="M751.7 546.3L755.7 543.6L759.7 546.3L755.7 549.0Z"/><path d="M742.8 555.3L746.8 552.6L750.8 555.3L746.8 558.0Z"/><path d="M735.1 565.2L739.1 562.5L743.1 565.2L739.1 567.9Z"/><path d="M727.2 575.0L731.2 572.3L735.2 575.0L731.2 577.7Z"/></g><g fill="#fff" opacity="1.0" stroke="#fff" stroke-width="2.2" stroke-linejoin="round"><path d="M717.3 584.3L722.7 580.7L728.1 584.3L722.7 587.9Z"/><path d="M708.9 593.7L714.3 590.1L719.7 593.7L714.3 597.3Z"/><path d="M700.4 603.0L705.8 599.4L711.2 603.0L705.8 606.6Z"/><path d="M691.1 611.5L696.5 607.9L701.9 611.5L696.5 615.1Z"/><path d="M681.5 619.7L686.9 616.1L692.3 619.7L686.9 623.3Z"/><path d="M671.6 627.5L677.0 623.9L682.4 627.5L677.0 631.1Z"/><path d="M661.0 634.2L666.4 630.6L671.8 634.2L666.4 637.8Z"/><path d="M650.2 640.7L655.6 637.1L661.0 640.7L655.6 644.3Z"/><path d="M639.3 647.0L644.7 643.4L650.1 647.0L644.7 650.6Z"/><path d="M627.7 652.0L633.1 648.4L638.5 652.0L633.1 655.6Z"/><path d="M616.0 656.6L621.4 653.0L626.8 656.6L621.4 660.2Z"/><path d="M604.1 660.9L609.5 657.3L614.9 660.9L609.5 664.5Z"/><path d="M592.1 664.7L597.5 661.1L602.9 664.7L597.5 668.3Z"/></g><g fill="#f0928c"><ellipse cx="722.7" cy="584.3" rx="3.2" ry="2.1"/><ellipse cx="714.3" cy="593.7" rx="3.2" ry="2.1"/><ellipse cx="705.8" cy="603.0" rx="3.2" ry="2.1"/><ellipse cx="696.5" cy="611.5" rx="3.2" ry="2.1"/><ellipse cx="686.9" cy="619.7" rx="3.2" ry="2.1"/><ellipse cx="677.0" cy="627.5" rx="3.2" ry="2.1"/><ellipse cx="666.4" cy="634.2" rx="3.2" ry="2.1"/><ellipse cx="655.6" cy="640.7" rx="3.2" ry="2.1"/><ellipse cx="644.7" cy="647.0" rx="3.2" ry="2.1"/><ellipse cx="633.1" cy="652.0" rx="3.2" ry="2.1"/><ellipse cx="621.4" cy="656.6" rx="3.2" ry="2.1"/><ellipse cx="609.5" cy="660.9" rx="3.2" ry="2.1"/><ellipse cx="597.5" cy="664.7" rx="3.2" ry="2.1"/></g><g fill="#fff" opacity="1.0" stroke="#fff" stroke-width="2.2" stroke-linejoin="round"><path d="M343.6 299.3L346.9 297.1L350.2 299.3L346.9 301.5Z"/><path d="M349.7 288.1L353.0 285.9L356.3 288.1L353.0 290.3Z"/><path d="M356.3 277.2L359.6 275.0L362.9 277.2L359.6 279.4Z"/><path d="M362.9 266.5L366.2 264.3L369.5 266.5L366.2 268.7Z"/><path d="M369.8 255.8L373.1 253.6L376.4 255.8L373.1 258.0Z"/><path d="M377.1 245.5L380.4 243.3L383.7 245.5L380.4 247.7Z"/><path d="M383.6 235.0L386.9 232.8L390.2 235.0L386.9 237.2Z"/><path d="M390.1 224.1L393.4 221.9L396.7 224.1L393.4 226.3Z"/></g><g fill="#fff" opacity="1.0" stroke="#fff" stroke-width="2.2" stroke-linejoin="round"><path d="M395.9 213.5L400.3 210.5L404.7 213.5L400.3 216.5Z"/><path d="M402.6 203.0L407.0 200.0L411.4 203.0L407.0 206.0Z"/><path d="M409.1 192.1L413.5 189.1L417.9 192.1L413.5 195.1Z"/><path d="M416.6 181.6L421.0 178.6L425.4 181.6L421.0 184.6Z"/><path d="M424.6 171.6L429.0 168.6L433.4 171.6L429.0 174.6Z"/><path d="M432.9 162.0L437.3 159.0L441.7 162.0L437.3 165.0Z"/><path d="M441.8 152.8L446.2 149.8L450.6 152.8L446.2 155.8Z"/><path d="M451.4 144.2L455.8 141.2L460.2 144.2L455.8 147.2Z"/><path d="M461.8 136.6L466.2 133.6L470.6 136.6L466.2 139.6Z"/><path d="M472.7 129.9L477.1 126.9L481.5 129.9L477.1 132.9Z"/><path d="M483.9 123.6L488.3 120.6L492.7 123.6L488.3 126.6Z"/></g><g fill="#f0928c"><ellipse cx="400.3" cy="213.5" rx="3.0" ry="2.0"/><ellipse cx="407.0" cy="203.0" rx="3.0" ry="2.0"/><ellipse cx="413.5" cy="192.1" rx="3.0" ry="2.0"/><ellipse cx="421.0" cy="181.6" rx="3.0" ry="2.0"/><ellipse cx="429.0" cy="171.6" rx="3.0" ry="2.0"/><ellipse cx="437.3" cy="162.0" rx="3.0" ry="2.0"/><ellipse cx="446.2" cy="152.8" rx="3.0" ry="2.0"/><ellipse cx="455.8" cy="144.2" rx="3.0" ry="2.0"/><ellipse cx="466.2" cy="136.6" rx="3.0" ry="2.0"/><ellipse cx="477.1" cy="129.9" rx="3.0" ry="2.0"/><ellipse cx="488.3" cy="123.6" rx="3.0" ry="2.0"/></g><g fill="#fff" opacity="1.0" stroke="#fff" stroke-width="2.2" stroke-linejoin="round"><path d="M761.4 296.8L764.7 294.6L768.0 296.8L764.7 299.0Z"/><path d="M752.1 289.5L755.4 287.3L758.7 289.5L755.4 291.7Z"/><path d="M744.4 279.9L747.7 277.7L751.0 279.9L747.7 282.1Z"/><path d="M736.8 270.0L740.1 267.8L743.4 270.0L740.1 272.2Z"/><path d="M729.4 259.9L732.7 257.7L736.0 259.9L732.7 262.1Z"/><path d="M722.2 249.6L725.5 247.4L728.8 249.6L725.5 251.8Z"/><path d="M715.0 239.2L718.3 237.0L721.6 239.2L718.3 241.4Z"/></g><g fill="#fff" opacity="1.0" stroke="#fff" stroke-width="2.2" stroke-linejoin="round"><path d="M706.8 228.8L711.2 225.8L715.6 228.8L711.2 231.8Z"/><path d="M699.3 218.5L703.7 215.5L708.1 218.5L703.7 221.5Z"/><path d="M691.2 208.7L695.6 205.7L700.0 208.7L695.6 211.7Z"/><path d="M683.0 199.1L687.4 196.1L691.8 199.1L687.4 202.1Z"/><path d="M674.7 189.5L679.1 186.5L683.5 189.5L679.1 192.5Z"/><path d="M666.4 180.0L670.8 177.0L675.2 180.0L670.8 183.0Z"/><path d="M658.1 170.5L662.5 167.5L666.9 170.5L662.5 173.5Z"/><path d="M649.6 161.2L654.0 158.2L658.4 161.2L654.0 164.2Z"/><path d="M640.5 152.0L644.9 149.0L649.3 152.0L644.9 155.0Z"/><path d="M630.6 143.8L635.0 140.8L639.4 143.8L635.0 146.8Z"/><path d="M620.1 136.4L624.5 133.4L628.9 136.4L624.5 139.4Z"/><path d="M609.3 129.6L613.7 126.6L618.1 129.6L613.7 132.6Z"/><path d="M597.9 123.6L602.3 120.6L606.7 123.6L602.3 126.6Z"/></g><g fill="#f0928c"><ellipse cx="711.2" cy="228.8" rx="3.0" ry="2.0"/><ellipse cx="703.7" cy="218.5" rx="3.0" ry="2.0"/><ellipse cx="695.6" cy="208.7" rx="3.0" ry="2.0"/><ellipse cx="687.4" cy="199.1" rx="3.0" ry="2.0"/><ellipse cx="679.1" cy="189.5" rx="3.0" ry="2.0"/><ellipse cx="670.8" cy="180.0" rx="3.0" ry="2.0"/><ellipse cx="662.5" cy="170.5" rx="3.0" ry="2.0"/><ellipse cx="654.0" cy="161.2" rx="3.0" ry="2.0"/><ellipse cx="644.9" cy="152.0" rx="3.0" ry="2.0"/><ellipse cx="635.0" cy="143.8" rx="3.0" ry="2.0"/><ellipse cx="624.5" cy="136.4" rx="3.0" ry="2.0"/><ellipse cx="613.7" cy="129.6" rx="3.0" ry="2.0"/><ellipse cx="602.3" cy="123.6" rx="3.0" ry="2.0"/></g><g fill="#fff" opacity="1.0" stroke="#fff" stroke-width="2.2" stroke-linejoin="round"><path d="M300.6 489.6L303.9 487.4L307.2 489.6L303.9 491.8Z"/><path d="M309.6 497.9L312.9 495.7L316.2 497.9L312.9 500.1Z"/><path d="M317.1 507.4L320.4 505.2L323.7 507.4L320.4 509.6Z"/><path d="M324.2 517.7L327.5 515.5L330.8 517.7L327.5 519.9Z"/><path d="M331.5 528.0L334.8 525.8L338.1 528.0L334.8 530.2Z"/><path d="M338.9 538.3L342.2 536.1L345.5 538.3L342.2 540.5Z"/><path d="M346.1 548.5L349.4 546.3L352.7 548.5L349.4 550.7Z"/><path d="M353.4 558.9L356.7 556.7L360.0 558.9L356.7 561.1Z"/><path d="M361.1 569.1L364.4 566.9L367.7 569.1L364.4 571.3Z"/></g><g fill="#fff" opacity="1.0" stroke="#fff" stroke-width="2.2" stroke-linejoin="round"><path d="M368.2 578.8L372.6 575.8L377.0 578.8L372.6 581.8Z"/><path d="M376.3 588.4L380.7 585.4L385.1 588.4L380.7 591.4Z"/><path d="M384.5 598.0L388.9 595.0L393.3 598.0L388.9 601.0Z"/><path d="M393.0 607.5L397.4 604.5L401.8 607.5L397.4 610.5Z"/><path d="M401.9 616.6L406.3 613.6L410.7 616.6L406.3 619.6Z"/><path d="M411.1 625.4L415.5 622.4L419.9 625.4L415.5 628.4Z"/><path d="M420.7 633.8L425.1 630.8L429.5 633.8L425.1 636.8Z"/><path d="M430.9 641.7L435.3 638.7L439.7 641.7L435.3 644.7Z"/><path d="M441.5 648.8L445.9 645.8L450.3 648.8L445.9 651.8Z"/><path d="M452.1 655.5L456.5 652.5L460.9 655.5L456.5 658.5Z"/></g><g fill="#f0928c"><ellipse cx="372.6" cy="578.8" rx="3.0" ry="2.0"/><ellipse cx="380.7" cy="588.4" rx="3.0" ry="2.0"/><ellipse cx="388.9" cy="598.0" rx="3.0" ry="2.0"/><ellipse cx="397.4" cy="607.5" rx="3.0" ry="2.0"/><ellipse cx="406.3" cy="616.6" rx="3.0" ry="2.0"/><ellipse cx="415.5" cy="625.4" rx="3.0" ry="2.0"/><ellipse cx="425.1" cy="633.8" rx="3.0" ry="2.0"/><ellipse cx="435.3" cy="641.7" rx="3.0" ry="2.0"/><ellipse cx="445.9" cy="648.8" rx="3.0" ry="2.0"/><ellipse cx="456.5" cy="655.5" rx="3.0" ry="2.0"/></g><g fill="#fff" opacity="1.0" stroke="#fff" stroke-width="2.2" stroke-linejoin="round"><path d="M720.2 485.4L723.5 483.2L726.8 485.4L723.5 487.6Z"/><path d="M712.1 495.2L715.4 493.0L718.7 495.2L715.4 497.4Z"/><path d="M704.8 505.0L708.1 502.8L711.4 505.0L708.1 507.2Z"/><path d="M698.2 515.6L701.5 513.4L704.8 515.6L701.5 517.8Z"/><path d="M691.6 526.3L694.9 524.1L698.2 526.3L694.9 528.5Z"/><path d="M685.0 537.1L688.3 534.9L691.6 537.1L688.3 539.3Z"/><path d="M678.3 547.8L681.6 545.6L684.9 547.8L681.6 550.0Z"/><path d="M671.2 558.4L674.5 556.2L677.8 558.4L674.5 560.6Z"/></g><g fill="#fff" opacity="1.0" stroke="#fff" stroke-width="2.2" stroke-linejoin="round"><path d="M662.7 568.7L667.1 565.7L671.5 568.7L667.1 571.7Z"/><path d="M655.4 578.8L659.8 575.8L664.2 578.8L659.8 581.8Z"/><path d="M648.1 589.2L652.5 586.2L656.9 589.2L652.5 592.2Z"/><path d="M640.4 599.4L644.8 596.4L649.2 599.4L644.8 602.4Z"/><path d="M632.2 609.1L636.6 606.1L641.0 609.1L636.6 612.1Z"/><path d="M624.0 618.6L628.4 615.6L632.8 618.6L628.4 621.6Z"/><path d="M615.6 628.2L620.0 625.2L624.4 628.2L620.0 631.2Z"/><path d="M606.1 637.2L610.5 634.2L614.9 637.2L610.5 640.2Z"/><path d="M595.9 644.9L600.3 641.9L604.7 644.9L600.3 647.9Z"/><path d="M585.6 652.4L590.0 649.4L594.4 652.4L590.0 655.4Z"/><path d="M574.5 659.1L578.9 656.1L583.3 659.1L578.9 662.1Z"/></g><g fill="#f0928c"><ellipse cx="667.1" cy="568.7" rx="3.0" ry="2.0"/><ellipse cx="659.8" cy="578.8" rx="3.0" ry="2.0"/><ellipse cx="652.5" cy="589.2" rx="3.0" ry="2.0"/><ellipse cx="644.8" cy="599.4" rx="3.0" ry="2.0"/><ellipse cx="636.6" cy="609.1" rx="3.0" ry="2.0"/><ellipse cx="628.4" cy="618.6" rx="3.0" ry="2.0"/><ellipse cx="620.0" cy="628.2" rx="3.0" ry="2.0"/><ellipse cx="610.5" cy="637.2" rx="3.0" ry="2.0"/><ellipse cx="600.3" cy="644.9" rx="3.0" ry="2.0"/><ellipse cx="590.0" cy="652.4" rx="3.0" ry="2.0"/><ellipse cx="578.9" cy="659.1" rx="3.0" ry="2.0"/></g><g fill="#fff" opacity="1.0" stroke="#fff" stroke-width="2.2" stroke-linejoin="round"><path d="M192.0 324.3L195.0 322.2L198.0 324.3L195.0 326.4Z"/><path d="M197.7 314.8L200.7 312.7L203.7 314.8L200.7 316.9Z"/><path d="M203.6 305.6L206.6 303.5L209.6 305.6L206.6 307.7Z"/><path d="M210.8 297.3L213.8 295.2L216.8 297.3L213.8 299.4Z"/><path d="M219.3 290.3L222.3 288.2L225.3 290.3L222.3 292.4Z"/></g><g fill="#fff" opacity="1.0" stroke="#fff" stroke-width="2.2" stroke-linejoin="round"><path d="M186.7 242.9L189.7 240.8L192.7 242.9L189.7 245.0Z"/><path d="M195.9 236.8L198.9 234.7L201.9 236.8L198.9 238.9Z"/><path d="M205.1 230.8L208.1 228.7L211.1 230.8L208.1 232.9Z"/><path d="M214.3 224.8L217.3 222.7L220.3 224.8L217.3 226.9Z"/></g><g fill="#fff" opacity="1.0" stroke="#fff" stroke-width="2.2" stroke-linejoin="round"><path d="M821.3 502.9L824.3 500.8L827.3 502.9L824.3 505.0Z"/><path d="M831.6 499.1L834.6 497.0L837.6 499.1L834.6 501.2Z"/><path d="M840.7 493.1L843.7 491.0L846.7 493.1L843.7 495.2Z"/><path d="M848.5 485.3L851.5 483.2L854.5 485.3L851.5 487.4Z"/><path d="M855.9 477.1L858.9 475.0L861.9 477.1L858.9 479.2Z"/><path d="M863.1 468.9L866.1 466.8L869.1 468.9L866.1 471.0Z"/></g><g fill="#fff" opacity="1.0" stroke="#fff" stroke-width="2.2" stroke-linejoin="round"><path d="M842.6 561.7L845.6 559.6L848.6 561.7L845.6 563.8Z"/><path d="M851.4 555.1L854.4 553.0L857.4 555.1L854.4 557.2Z"/><path d="M860.6 549.0L863.6 546.9L866.6 549.0L863.6 551.1Z"/><path d="M869.8 543.1L872.8 541.0L875.8 543.1L872.8 545.2Z"/></g></g><g filter="url(#b1)" opacity="0.8"><g fill="#fff" opacity="1.0" stroke="#fff" stroke-width="2.2" stroke-linejoin="round"><ellipse cx="278.0" cy="235.8" rx="2.6" ry="2.2"/><ellipse cx="285.1" cy="228.1" rx="2.6" ry="2.2"/><ellipse cx="292.2" cy="220.3" rx="2.6" ry="2.2"/><ellipse cx="299.4" cy="212.6" rx="2.6" ry="2.2"/><ellipse cx="306.6" cy="205.0" rx="2.6" ry="2.2"/><ellipse cx="313.8" cy="197.4" rx="2.6" ry="2.2"/><ellipse cx="321.2" cy="189.9" rx="2.6" ry="2.2"/><ellipse cx="328.6" cy="182.5" rx="2.6" ry="2.2"/><ellipse cx="336.1" cy="175.1" rx="2.6" ry="2.2"/><ellipse cx="343.7" cy="167.9" rx="2.6" ry="2.2"/><ellipse cx="351.3" cy="160.6" rx="2.6" ry="2.2"/></g><g fill="#fff" opacity="1.0" stroke="#fff" stroke-width="2.2" stroke-linejoin="round"><ellipse cx="792.5" cy="161.7" rx="2.4" ry="2.0"/><ellipse cx="801.1" cy="167.7" rx="2.4" ry="2.0"/><ellipse cx="809.6" cy="173.8" rx="2.4" ry="2.0"/><ellipse cx="817.8" cy="180.4" rx="2.4" ry="2.0"/><ellipse cx="825.6" cy="187.5" rx="2.4" ry="2.0"/><ellipse cx="833.0" cy="194.9" rx="2.4" ry="2.0"/><ellipse cx="840.1" cy="202.6" rx="2.4" ry="2.0"/><ellipse cx="846.7" cy="210.8" rx="2.4" ry="2.0"/></g><g fill="#fff" opacity="1.0" stroke="#fff" stroke-width="2.2" stroke-linejoin="round"><ellipse cx="202.0" cy="572.2" rx="2.4" ry="2.0"/><ellipse cx="209.0" cy="580.1" rx="2.4" ry="2.0"/><ellipse cx="216.1" cy="587.8" rx="2.4" ry="2.0"/><ellipse cx="223.4" cy="595.4" rx="2.4" ry="2.0"/><ellipse cx="231.0" cy="602.6" rx="2.4" ry="2.0"/><ellipse cx="238.7" cy="609.7" rx="2.4" ry="2.0"/><ellipse cx="246.7" cy="616.6" rx="2.4" ry="2.0"/><ellipse cx="255.0" cy="623.0" rx="2.4" ry="2.0"/></g><g fill="#fff" opacity="1.0" stroke="#fff" stroke-width="2.2" stroke-linejoin="round"><ellipse cx="763.4" cy="562.5" rx="2.4" ry="2.0"/><ellipse cx="757.8" cy="571.4" rx="2.4" ry="2.0"/><ellipse cx="752.1" cy="580.2" rx="2.4" ry="2.0"/><ellipse cx="746.0" cy="588.8" rx="2.4" ry="2.0"/><ellipse cx="739.0" cy="596.6" rx="2.4" ry="2.0"/><ellipse cx="731.4" cy="603.9" rx="2.4" ry="2.0"/><ellipse cx="723.5" cy="610.7" rx="2.4" ry="2.0"/><ellipse cx="715.3" cy="617.3" rx="2.4" ry="2.0"/><ellipse cx="706.7" cy="623.4" rx="2.4" ry="2.0"/></g></g></g>
<g clip-path="url(#clipB)"><rect x="1291.0" y="69.4" width="676.4" height="650.0" fill="url(#bgB)"/><g fill="#ff2216" filter="url(#b1)"><path d="M1285 64 L1285 82.5 L1360 79 L1440 75 L1520 71.5 L1590 66Z"/><path d="M1975 64 L1975 84.5 L1900 80.5 L1820 76.5 L1740 72.5 L1690 66Z"/><path d="M1285 726 L1285 705.5 L1360 709 L1440 713 L1520 716.5 L1585 722Z"/><path d="M1975 726 L1975 706.5 L1900 709.5 L1820 713 L1740 716.5 L1655 722Z"/></g><g fill="none" stroke="#f58a8a" stroke-width="2.2" opacity="0.4" filter="url(#b1)"><path d="M1967 100 Q1800 90 1690 70"/><path d="M1291 690 Q1440 706 1570 719"/><path d="M1967 690 Q1800 706 1690 719"/></g><g filter="url(#b2)"><path d="M1281.0 122.0C1291.2 121.4 1321.4 119.4 1342.0 118.5C1362.6 117.6 1387.4 116.2 1404.7 116.5C1422.0 116.8 1435.8 118.4 1446.0 120.0C1456.2 121.6 1462.7 125.0 1466.0 126.0L1467.0 126.5L1450.4 140.0L1436.0 155.0L1425.5 167.5L1415.0 179.5L1404.7 193.7L1396.4 203.0L1384.0 216.0L1373.5 227.5L1373.5 227.5L1361.0 221.0L1342.4 209.0L1321.6 199.0L1306.0 198.0L1292.5 205.0L1288.0 208.0Z" fill="url(#lbBUL)"/><path d="M1779.0 112.0C1780.2 110.7 1782.7 106.1 1786.3 104.0C1789.9 101.9 1793.9 98.2 1800.8 99.5C1807.7 100.8 1819.9 108.5 1827.9 112.0C1835.9 115.5 1838.2 118.8 1848.6 120.3C1858.9 121.8 1868.4 121.3 1890.0 121.3C1911.6 121.3 1963.3 120.5 1978.0 120.3L1971.0 227.3L1943.4 229.0L1911.0 235.6L1878.7 250.5L1880.0 252.0L1875.5 248.5L1863.2 228.4L1850.7 211.7L1838.3 193.0L1823.7 172.2L1807.0 151.5L1786.3 130.7L1755.0 107.8Z" fill="url(#lbBUR)"/><path d="M1281.0 667.6C1295.3 668.1 1342.8 669.1 1366.6 670.5C1390.4 671.9 1407.2 673.6 1424.0 676.0C1440.8 678.4 1457.6 686.0 1467.6 685.0C1477.6 684.0 1481.3 672.5 1484.0 670.0L1476.3 660.4L1459.0 643.0L1444.6 625.8L1430.0 607.0L1415.7 586.8L1401.0 563.7L1391.0 545.0L1381.0 539.0L1381.0 539.0L1352.0 549.3L1323.0 558.0L1288.0 564.5Z" fill="url(#lbBLL)"/><path d="M1796.0 674.0C1799.2 673.3 1801.0 670.8 1815.0 670.0C1829.0 669.2 1852.8 669.2 1880.0 669.0C1907.2 668.8 1961.7 669.0 1978.0 669.0L1971.0 585.5L1952.0 591.0L1937.6 588.3L1917.3 579.6L1897.0 568.0L1882.7 560.8L1882.7 560.8L1879.8 563.7L1868.3 579.6L1853.8 598.4L1839.4 615.7L1822.0 635.9L1804.8 653.2L1787.4 667.6Z" fill="url(#lbBLR)"/><path d="M1281.0 122.0C1291.2 121.4 1321.4 119.4 1342.0 118.5C1362.6 117.6 1387.4 116.2 1404.7 116.5C1422.0 116.8 1435.8 118.4 1446.0 120.0C1456.2 121.6 1462.7 125.0 1466.0 126.0L1467.0 126.5L1450.4 140.0L1436.0 155.0L1425.5 167.5L1415.0 179.5L1404.7 193.7L1396.4 203.0L1384.0 216.0L1373.5 227.5L1373.5 227.5L1361.0 221.0L1342.4 209.0L1321.6 199.0L1306.0 198.0L1292.5 205.0L1288.0 208.0Z" fill="url(#fadeBU)"/><path d="M1779.0 112.0C1780.2 110.7 1782.7 106.1 1786.3 104.0C1789.9 101.9 1793.9 98.2 1800.8 99.5C1807.7 100.8 1819.9 108.5 1827.9 112.0C1835.9 115.5 1838.2 118.8 1848.6 120.3C1858.9 121.8 1868.4 121.3 1890.0 121.3C1911.6 121.3 1963.3 120.5 1978.0 120.3L1971.0 227.3L1943.4 229.0L1911.0 235.6L1878.7 250.5L1880.0 252.0L1875.5 248.5L1863.2 228.4L1850.7 211.7L1838.3 193.0L1823.7 172.2L1807.0 151.5L1786.3 130.7L1755.0 107.8Z" fill="url(#fadeBU)"/><path d="M1281.0 667.6C1295.3 668.1 1342.8 669.1 1366.6 670.5C1390.4 671.9 1407.2 673.6 1424.0 676.0C1440.8 678.4 1457.6 686.0 1467.6 685.0C1477.6 684.0 1481.3 672.5 1484.0 670.0L1476.3 660.4L1459.0 643.0L1444.6 625.8L1430.0 607.0L1415.7 586.8L1401.0 563.7L1391.0 545.0L1381.0 539.0L1381.0 539.0L1352.0 549.3L1323.0 558.0L1288.0 564.5Z" fill="url(#fadeBL)"/><path d="M1796.0 674.0C1799.2 673.3 1801.0 670.8 1815.0 670.0C1829.0 669.2 1852.8 669.2 1880.0 669.0C1907.2 668.8 1961.7 669.0 1978.0 669.0L1971.0 585.5L1952.0 591.0L1937.6 588.3L1917.3 579.6L1897.0 568.0L1882.7 560.8L1882.7 560.8L1879.8 563.7L1868.3 579.6L1853.8 598.4L1839.4 615.7L1822.0 635.9L1804.8 653.2L1787.4 667.6Z" fill="url(#fadeBL)"/></g><path d="M1288.0 208.0L1292.5 205.0L1306.0 198.0L1321.6 199.0L1342.4 209.0L1361.0 221.0L1373.5 227.5L1384.0 216.0C1386.1 213.8 1393.0 206.7 1396.4 203.0C1399.9 199.3 1401.6 197.6 1404.7 193.7C1407.8 189.8 1411.5 183.9 1415.0 179.5C1418.5 175.1 1422.0 171.6 1425.5 167.5C1429.0 163.4 1431.8 159.6 1436.0 155.0C1440.2 150.4 1445.2 144.8 1450.4 140.0C1455.6 135.2 1460.8 130.7 1467.0 126.5C1473.2 122.3 1481.0 118.6 1487.9 115.0C1494.8 111.4 1501.7 108.0 1508.6 104.7C1515.5 101.4 1522.5 98.2 1529.4 95.3C1536.3 92.3 1541.3 90.1 1550.0 87.0C1558.7 83.9 1572.4 79.2 1581.4 76.6C1590.5 74.0 1597.0 73.3 1604.3 71.4C1611.6 69.5 1621.5 66.1 1625.0 65.0L1668.0 63.0L1682.0 70.4C1689.0 73.5 1711.8 82.8 1724.0 89.0C1736.2 95.2 1744.6 100.8 1755.0 107.8C1765.4 114.8 1777.6 123.4 1786.3 130.7C1795.0 138.0 1800.8 144.6 1807.0 151.5C1813.2 158.4 1818.5 165.3 1823.7 172.2C1828.9 179.1 1833.8 186.4 1838.3 193.0C1842.8 199.6 1846.5 205.8 1850.7 211.7C1854.9 217.6 1859.1 222.3 1863.2 228.4C1867.3 234.5 1872.7 244.6 1875.5 248.5C1878.3 252.4 1879.2 251.4 1880.0 252.0L1911.0 235.6C1916.4 234.5 1933.4 230.4 1943.4 229.0C1953.4 227.6 1966.4 227.6 1971.0 227.3L1971.0 300.0L1288.0 300.0Z" fill="url(#bandBU)"/><path d="M1288.0 564.5C1293.8 563.4 1312.3 560.5 1323.0 558.0C1333.7 555.5 1342.3 552.5 1352.0 549.3C1361.7 546.1 1376.2 540.7 1381.0 539.0L1391.0 545.0C1392.7 548.1 1396.9 556.7 1401.0 563.7C1405.1 570.7 1410.9 579.6 1415.7 586.8C1420.5 594.0 1425.2 600.5 1430.0 607.0C1434.8 613.5 1439.8 619.8 1444.6 625.8C1449.4 631.8 1453.7 637.2 1459.0 643.0C1464.3 648.8 1470.5 654.9 1476.3 660.4C1482.1 665.9 1487.8 671.5 1493.6 676.3C1499.4 681.1 1504.8 685.0 1511.0 689.3C1517.2 693.6 1523.8 698.2 1531.0 702.3C1538.2 706.4 1545.8 710.3 1554.0 713.8C1562.2 717.2 1575.7 721.5 1580.0 723.0L1640.0 723.0L1663.3 716.7C1670.5 715.2 1694.6 711.1 1706.6 708.0C1718.6 704.9 1725.9 702.3 1735.5 698.0C1745.1 693.7 1755.6 687.1 1764.3 682.0C1773.0 676.9 1780.7 672.4 1787.4 667.6C1794.2 662.8 1799.0 658.5 1804.8 653.2C1810.6 647.9 1816.2 642.1 1822.0 635.9C1827.8 629.6 1834.1 622.0 1839.4 615.7C1844.7 609.5 1849.0 604.4 1853.8 598.4C1858.6 592.4 1864.0 585.4 1868.3 579.6C1872.6 573.8 1877.4 566.8 1879.8 563.7C1882.2 560.6 1882.2 561.3 1882.7 560.8L1897.0 568.0L1917.3 579.6L1937.6 588.3L1952.0 591.0L1971.0 585.5L1971.0 500.0L1288.0 500.0Z" fill="url(#bandBL)"/><g fill="none" stroke="#fff" stroke-width="8" stroke-linejoin="round" stroke-linecap="round" opacity="0.45" filter="url(#b2)"><path d="M1311.2 255.0C1312.9 253.8 1317.5 249.4 1321.6 247.7C1325.7 246.0 1330.8 244.9 1336.0 244.6C1341.2 244.2 1346.5 244.4 1352.8 245.6C1359.0 246.8 1366.6 249.7 1373.5 251.8C1380.4 253.9 1387.4 255.7 1394.3 258.0C1401.2 260.3 1408.8 263.5 1415.0 265.4C1421.2 267.3 1428.9 268.8 1431.7 269.5"/><path d="M1882.0 273.0L1901.4 261.4L1917.5 263.0L1937.0 269.5L1953.0 264.7L1971.0 263.0"/><path d="M1971.0 512.0C1968.8 514.4 1961.9 522.2 1957.8 526.2C1953.7 530.2 1950.5 533.7 1946.2 536.3C1941.9 538.9 1938.0 540.8 1931.8 542.0C1925.5 543.2 1917.4 544.2 1908.7 543.5C1900.0 542.8 1889.4 540.4 1879.8 537.7C1870.2 535.1 1859.4 531.0 1851.0 527.6C1842.6 524.2 1832.9 519.2 1829.3 517.5"/><path d="M1394.0 516.5L1369.5 522.5L1355.0 532.5L1337.7 526.0L1326.0 517.5L1288.0 526.0"/><path d="M1288.0 208.0C1288.8 207.5 1289.5 206.7 1292.5 205.0C1295.5 203.3 1301.2 199.0 1306.0 198.0C1310.8 197.0 1315.5 197.2 1321.6 199.0C1327.7 200.8 1335.8 205.3 1342.4 209.0C1349.0 212.7 1355.8 217.9 1361.0 221.0C1366.2 224.1 1371.4 226.4 1373.5 227.5"/><path d="M1878.7 250.5C1884.1 248.0 1900.2 239.2 1911.0 235.6C1921.8 232.0 1933.4 230.4 1943.4 229.0C1953.4 227.6 1966.4 227.6 1971.0 227.3"/><path d="M1288.0 564.5C1293.8 563.4 1312.3 560.5 1323.0 558.0C1333.7 555.5 1342.3 552.5 1352.0 549.3C1361.7 546.1 1376.2 540.7 1381.0 539.0"/><path d="M1882.7 560.8C1885.1 562.0 1891.2 564.9 1897.0 568.0C1902.8 571.1 1910.5 576.2 1917.3 579.6C1924.1 583.0 1931.8 586.4 1937.6 588.3C1943.4 590.2 1946.4 591.5 1952.0 591.0C1957.6 590.5 1967.8 586.4 1971.0 585.5"/></g><g fill="none" stroke="#ffffff" stroke-width="7" opacity="0.8" filter="url(#b1)"><path d="M1468.0 129.5C1471.5 127.6 1482.0 121.6 1488.9 118.0C1495.8 114.4 1502.7 111.0 1509.6 107.7C1516.5 104.4 1523.5 101.2 1530.4 98.3C1537.3 95.3 1542.3 93.1 1551.0 90.0C1559.7 86.9 1573.4 82.2 1582.4 79.6C1591.5 77.0 1598.0 76.3 1605.3 74.4C1612.6 72.5 1622.5 69.1 1626.0 68.0"/><path d="M1667.0 66.0C1669.3 67.2 1671.7 69.1 1681.0 73.4C1690.3 77.7 1710.8 85.8 1723.0 92.0C1735.2 98.2 1743.6 103.8 1754.0 110.8C1764.4 117.8 1780.1 129.9 1785.3 133.7"/><path d="M1494.6 673.3C1497.5 675.5 1505.8 682.0 1512.0 686.3C1518.2 690.6 1524.8 695.2 1532.0 699.3C1539.2 703.4 1546.8 707.3 1555.0 710.8C1563.2 714.2 1576.7 718.5 1581.0 720.0"/><path d="M1639.0 720.0C1642.9 719.0 1651.2 716.2 1662.3 713.7C1673.4 711.2 1693.6 708.1 1705.6 705.0C1717.6 701.9 1724.9 699.3 1734.5 695.0C1744.1 690.7 1758.5 681.7 1763.3 679.0"/></g><path d="M1431.7 269.5L1434.4 269.5L1434.4 267.8L1437.1 267.8L1437.1 266.2L1437.1 261.5L1445.4 261.5L1445.4 256.9L1445.4 251.5L1451.9 251.5L1451.9 246.1L1451.9 240.6L1458.1 240.6L1458.1 235.2L1458.1 229.7L1464.3 229.7L1464.3 224.2L1464.3 218.7L1470.4 218.7L1470.4 213.2L1470.4 207.7L1476.8 207.7L1476.8 202.3L1476.8 196.7L1482.5 196.7L1482.5 191.1L1482.5 185.6L1488.6 185.6L1488.6 180.0L1488.6 174.7L1495.3 174.7L1495.3 169.4L1495.3 164.1L1502.2 164.1L1502.2 158.8L1502.2 153.6L1509.3 153.6L1509.3 148.4L1509.3 143.6L1517.4 143.6L1517.4 138.8L1517.4 134.0L1525.6 134.0L1525.6 129.2L1525.6 124.5L1534.0 124.5L1534.0 119.9L1534.0 115.4L1542.9 115.4L1542.9 110.9L1542.9 107.3L1550.2 107.3L1550.2 103.7M1734.3 103.7L1734.3 105.8L1739.0 105.8L1739.0 107.8L1739.0 112.0L1748.5 112.0L1748.5 116.2L1748.5 120.5L1757.7 120.5L1757.7 124.8L1757.7 129.3L1766.6 129.3L1766.6 133.7L1766.6 138.3L1775.2 138.3L1775.2 142.9L1775.2 147.7L1783.4 147.7L1783.4 152.5L1783.4 157.5L1791.1 157.5L1791.1 162.5L1791.1 167.6L1798.5 167.6L1798.5 172.6L1798.5 177.7L1806.1 177.7L1806.1 182.7L1806.1 187.9L1813.3 187.9L1813.3 193.1L1813.3 198.3L1820.3 198.3L1820.3 203.5L1820.3 208.6L1827.6 208.6L1827.6 213.8L1827.6 218.8L1835.2 218.8L1835.2 223.8L1835.2 228.7L1843.1 228.7L1843.1 233.6L1843.1 238.6L1850.8 238.6L1850.8 243.6L1850.8 248.5L1858.7 248.5L1858.7 253.5L1858.7 257.9L1867.6 257.9L1867.6 262.4L1867.6 266.2L1877.5 266.2L1877.5 270.1L1879.8 270.1L1879.8 271.5L1882.0 271.5L1882.0 273.0M1829.3 517.5L1829.3 520.1L1825.6 520.1L1825.6 522.6L1825.6 527.8L1818.6 527.8L1818.6 533.0L1818.6 538.5L1812.3 538.5L1812.3 544.0L1812.3 549.4L1806.0 549.4L1806.0 554.9L1806.0 560.2L1799.3 560.2L1799.3 565.6L1799.3 570.9L1792.6 570.9L1792.6 576.2L1792.6 581.6L1786.0 581.6L1786.0 586.9L1786.0 592.3L1779.3 592.3L1779.3 597.6L1779.3 603.0L1772.7 603.0L1772.7 608.3L1772.7 613.7L1765.9 613.7L1765.9 619.0L1765.9 624.2L1758.9 624.2L1758.9 629.5L1758.9 634.6L1751.5 634.6L1751.5 639.7L1751.5 644.7L1743.8 644.7L1743.8 649.6L1743.8 654.3L1735.5 654.3L1735.5 659.1L1735.5 663.6L1726.6 663.6L1726.6 668.1L1726.6 672.5L1717.7 672.5L1717.7 676.9L1717.7 681.4L1708.7 681.4L1708.7 685.8L1708.7 686.8L1706.6 686.8L1706.6 687.9M1534.0 692.0L1534.0 689.9L1529.3 689.9L1529.3 687.8L1529.3 683.6L1520.0 683.6L1520.0 679.4L1520.0 675.0L1510.8 675.0L1510.8 670.7L1510.8 666.2L1502.0 666.2L1502.0 661.7L1502.0 657.0L1493.5 657.0L1493.5 652.4L1493.5 647.6L1485.4 647.6L1485.4 642.8L1485.4 638.0L1477.1 638.0L1477.1 633.2L1477.1 628.4L1468.9 628.4L1468.9 623.7L1468.9 618.7L1461.1 618.7L1461.1 613.8L1461.1 608.6L1453.9 608.6L1453.9 603.5L1453.9 598.3L1446.6 598.3L1446.6 593.2L1446.6 588.0L1439.4 588.0L1439.4 582.9L1439.4 577.7L1432.0 577.7L1432.0 572.6L1432.0 567.5L1424.7 567.5L1424.7 562.4L1424.7 557.3L1417.3 557.3L1417.3 552.2L1417.3 547.1L1409.9 547.1L1409.9 542.0L1409.9 536.7L1403.0 536.7L1403.0 531.4L1403.0 526.0L1396.5 526.0L1396.5 520.6L1396.5 518.6L1394.0 518.6L1394.0 516.5" fill="none" stroke="#2c20e4" stroke-width="6" stroke-linejoin="round" filter="url(#b05)"/><path d="M1288.0 279.0C1288.8 278.3 1290.4 276.8 1292.5 274.7C1294.6 272.6 1297.7 269.7 1300.8 266.4C1303.9 263.1 1307.7 258.1 1311.2 255.0C1314.7 251.9 1317.5 249.4 1321.6 247.7C1325.7 246.0 1330.8 244.9 1336.0 244.6C1341.2 244.2 1346.5 244.4 1352.8 245.6C1359.0 246.8 1366.6 249.7 1373.5 251.8C1380.4 253.9 1387.4 255.7 1394.3 258.0C1401.2 260.3 1408.8 263.5 1415.0 265.4C1421.2 267.3 1428.9 268.8 1431.7 269.5L1431.7 269.5L1434.4 269.5L1434.4 267.8L1437.1 267.8L1437.1 266.2L1437.1 261.5L1445.4 261.5L1445.4 256.9L1445.4 251.5L1451.9 251.5L1451.9 246.1L1451.9 240.6L1458.1 240.6L1458.1 235.2L1458.1 229.7L1464.3 229.7L1464.3 224.2L1464.3 218.7L1470.4 218.7L1470.4 213.2L1470.4 207.7L1476.8 207.7L1476.8 202.3L1476.8 196.7L1482.5 196.7L1482.5 191.1L1482.5 185.6L1488.6 185.6L1488.6 180.0L1488.6 174.7L1495.3 174.7L1495.3 169.4L1495.3 164.1L1502.2 164.1L1502.2 158.8L1502.2 153.6L1509.3 153.6L1509.3 148.4L1509.3 143.6L1517.4 143.6L1517.4 138.8L1517.4 134.0L1525.6 134.0L1525.6 129.2L1525.6 124.5L1534.0 124.5L1534.0 119.9L1534.0 115.3L1542.7 115.3L1542.7 110.7L1542.7 106.5L1552.0 106.5L1552.0 102.2L1557.0 102.2L1557.0 98.5L1562.1 98.5L1562.1 94.7L1567.4 94.7L1567.4 91.4L1572.7 91.4L1572.7 88.0L1578.4 88.0L1578.4 85.1L1584.0 85.1L1584.0 82.2L1589.7 82.2L1589.7 79.7L1595.5 79.7L1595.5 77.1L1601.3 77.1L1601.3 74.8L1607.2 74.8L1607.2 72.5L1613.0 72.5L1613.0 70.1L1618.9 70.1L1618.9 67.7L1621.9 67.7L1621.9 66.4L1625.0 66.4L1625.0 65.0L1662.0 65.0L1662.0 65.0L1664.9 65.0L1664.9 66.3L1667.7 66.3L1667.7 67.6L1673.5 67.6L1673.5 70.1L1679.3 70.1L1679.3 72.7L1685.0 72.7L1685.0 75.3L1690.8 75.3L1690.8 77.8L1696.5 77.8L1696.5 80.5L1702.2 80.5L1702.2 83.1L1707.8 83.1L1707.8 86.0L1713.4 86.0L1713.4 88.9L1718.6 88.9L1718.6 92.4L1723.9 92.4L1723.9 95.9L1723.9 99.6L1734.0 99.6L1734.0 103.4L1734.0 107.5L1743.6 107.5L1743.6 111.6L1743.6 115.9L1752.8 115.9L1752.8 120.1L1752.8 124.5L1761.9 124.5L1761.9 128.9L1761.9 133.4L1770.6 133.4L1770.6 138.0L1770.6 142.7L1779.0 142.7L1779.0 147.3L1779.0 152.2L1787.0 152.2L1787.0 157.1L1787.0 162.2L1794.5 162.2L1794.5 167.2L1794.5 172.3L1802.0 172.3L1802.0 177.3L1802.0 182.4L1809.5 182.4L1809.5 187.5L1809.5 192.7L1816.5 192.7L1816.5 197.9L1816.5 203.1L1823.7 203.1L1823.7 208.3L1823.7 213.4L1831.1 213.4L1831.1 218.5L1831.1 223.5L1838.9 223.5L1838.9 228.4L1838.9 233.3L1846.8 233.3L1846.8 238.2L1846.8 243.2L1854.4 243.2L1854.4 248.2L1854.4 253.0L1862.6 253.0L1862.6 257.8L1862.6 261.9L1872.1 261.9L1872.1 266.1L1877.1 266.1L1877.1 269.5L1882.0 269.5L1882.0 273.0L1901.4 261.4L1917.5 263.0L1937.0 269.5L1953.0 264.7L1971.0 263.0L1971.0 512.0L1957.8 526.2L1946.2 536.3L1931.8 542.0L1908.7 543.5L1879.8 537.7L1851.0 527.6L1829.3 517.5L1829.3 517.5L1829.3 520.1L1825.6 520.1L1825.6 522.6L1825.6 527.8L1818.6 527.8L1818.6 533.0L1818.6 538.5L1812.3 538.5L1812.3 544.0L1812.3 549.4L1806.0 549.4L1806.0 554.9L1806.0 560.2L1799.3 560.2L1799.3 565.6L1799.3 570.9L1792.6 570.9L1792.6 576.2L1792.6 581.6L1786.0 581.6L1786.0 586.9L1786.0 592.3L1779.3 592.3L1779.3 597.6L1779.3 603.0L1772.7 603.0L1772.7 608.3L1772.7 613.7L1765.9 613.7L1765.9 619.0L1765.9 624.2L1758.9 624.2L1758.9 629.5L1758.9 634.6L1751.5 634.6L1751.5 639.7L1751.5 644.7L1743.8 644.7L1743.8 649.6L1743.8 654.3L1735.5 654.3L1735.5 659.1L1735.5 663.6L1726.8 663.6L1726.8 668.2L1726.8 672.7L1718.0 672.7L1718.0 677.2L1718.0 681.6L1708.9 681.6L1708.9 685.9L1708.9 689.9L1699.1 689.9L1699.1 693.9L1694.0 693.9L1694.0 697.6L1688.9 697.6L1688.9 701.2L1683.5 701.2L1683.5 704.5L1678.1 704.5L1678.1 707.8L1672.4 707.8L1672.4 710.3L1666.6 710.3L1666.6 712.9L1660.7 712.9L1660.7 714.9L1654.7 714.9L1654.7 716.9L1648.9 716.9L1648.9 719.3L1643.0 719.3L1643.0 721.7L1641.5 721.7L1641.5 722.3L1640.0 722.3L1640.0 723.0L1595.0 723.0L1595.0 723.0L1592.1 723.0L1592.1 721.8L1589.2 721.8L1589.2 720.6L1583.3 720.6L1583.3 718.2L1577.5 718.2L1577.5 715.9L1571.7 715.9L1571.7 713.5L1565.8 713.5L1565.8 711.1L1560.2 711.1L1560.2 708.3L1554.6 708.3L1554.6 705.5L1549.2 705.5L1549.2 702.2L1543.8 702.2L1543.8 699.0L1538.7 699.0L1538.7 695.3L1533.5 695.3L1533.5 691.6L1533.5 687.5L1524.1 687.5L1524.1 683.3L1524.1 679.0L1515.0 679.0L1515.0 674.6L1515.0 670.2L1506.0 670.2L1506.0 665.8L1506.0 661.3L1497.3 661.3L1497.3 656.7L1497.3 651.9L1489.1 651.9L1489.1 647.1L1489.1 642.3L1480.9 642.3L1480.9 637.5L1480.9 632.8L1472.6 632.8L1472.6 628.0L1472.6 623.2L1464.6 623.2L1464.6 618.3L1464.6 613.2L1457.1 613.2L1457.1 608.2L1457.1 603.0L1449.9 603.0L1449.9 597.8L1449.9 592.7L1442.6 592.7L1442.6 587.6L1442.6 582.4L1435.4 582.4L1435.4 577.3L1435.4 572.2L1428.0 572.2L1428.0 567.0L1428.0 561.9L1420.6 561.9L1420.6 556.8L1420.6 551.7L1413.2 551.7L1413.2 546.6L1413.2 541.4L1406.1 541.4L1406.1 536.3L1406.1 530.9L1399.4 530.9L1399.4 525.6L1399.4 521.0L1394.0 521.0L1394.0 516.5L1369.5 522.5L1355.0 532.5L1337.7 526.0L1326.0 517.5L1288.0 526.0Z" fill="#000"/><path d="M1930 515 L1940 511 L1955 512 L1950 517 L1936 518Z" fill="#2a1ee0"/><g fill="#2a22d8"><rect x="1597.3" y="433.3" width="6" height="1.8" opacity="0.9"/><rect x="1634.2" y="450.9" width="4" height="1.8" opacity="0.9"/><rect x="1715.5" y="582.5" width="3" height="1.8" opacity="0.9"/><rect x="1718.5" y="456.1" width="6" height="1.8" opacity="0.9"/><rect x="1731.5" y="469.0" width="4" height="1.8" opacity="0.35"/><rect x="1814.2" y="283.8" width="8" height="1.8" opacity="0.5"/><rect x="1641.7" y="484.8" width="6" height="1.8" opacity="0.35"/><rect x="1737.2" y="367.7" width="5" height="1.8" opacity="0.9"/><rect x="1637.6" y="94.0" width="8" height="1.8" opacity="0.35"/><rect x="1562.7" y="616.8" width="6" height="1.8" opacity="0.35"/><rect x="1609.0" y="702.4" width="6" height="1.8" opacity="0.9"/><rect x="1344.6" y="477.9" width="10" height="1.8" opacity="0.7"/><rect x="1520.4" y="274.2" width="3" height="1.8" opacity="0.9"/><rect x="1808.5" y="343.3" width="6" height="1.8" opacity="0.35"/><rect x="1498.6" y="641.3" width="4" height="1.8" opacity="0.5"/><rect x="1558.6" y="621.8" width="10" height="1.8" opacity="0.35"/><rect x="1468.0" y="569.5" width="5" height="1.8" opacity="0.7"/><rect x="1553.2" y="122.5" width="4" height="1.8" opacity="0.5"/><rect x="1306.3" y="311.0" width="8" height="1.8" opacity="0.9"/><rect x="1380.7" y="450.9" width="8" height="1.8" opacity="0.5"/><rect x="1503.0" y="221.2" width="8" height="1.8" opacity="0.5"/><rect x="1883.5" y="461.3" width="6" height="1.8" opacity="0.35"/><rect x="1454.8" y="525.9" width="5" height="1.8" opacity="0.9"/><rect x="1844.6" y="456.7" width="5" height="1.8" opacity="0.5"/><rect x="1448.1" y="433.0" width="8" height="1.8" opacity="0.35"/><rect x="1592.8" y="113.7" width="4" height="1.8" opacity="0.7"/><rect x="1541.6" y="441.2" width="4" height="1.8" opacity="0.35"/><rect x="1537.2" y="645.2" width="5" height="1.8" opacity="0.5"/><rect x="1688.9" y="666.1" width="6" height="1.8" opacity="0.7"/><rect x="1694.5" y="122.9" width="3" height="1.8" opacity="0.7"/><rect x="1597.8" y="310.4" width="3" height="1.8" opacity="0.5"/><rect x="1876.2" y="342.0" width="3" height="1.8" opacity="0.9"/><rect x="1677.5" y="475.0" width="6" height="1.8" opacity="0.9"/><rect x="1684.1" y="464.7" width="3" height="1.8" opacity="0.35"/><rect x="1781.0" y="323.6" width="10" height="1.8" opacity="0.9"/><rect x="1589.4" y="611.6" width="3" height="1.8" opacity="0.35"/><rect x="1449.3" y="521.9" width="6" height="1.8" opacity="0.9"/><rect x="1391.4" y="466.5" width="8" height="1.8" opacity="0.5"/><rect x="1882.3" y="321.0" width="8" height="1.8" opacity="0.7"/><rect x="1849.4" y="319.8" width="8" height="1.8" opacity="0.9"/><rect x="1743.7" y="533.4" width="8" height="1.8" opacity="0.9"/><rect x="1509.4" y="605.4" width="5" height="1.8" opacity="0.35"/><rect x="1501.8" y="581.6" width="3" height="1.8" opacity="0.5"/><rect x="1715.6" y="494.2" width="5" height="1.8" opacity="0.35"/><rect x="1466.5" y="532.1" width="6" height="1.8" opacity="0.35"/><rect x="1655.4" y="681.0" width="8" height="1.8" opacity="0.5"/><rect x="1558.1" y="581.8" width="4" height="1.8" opacity="0.35"/><rect x="1569.4" y="646.3" width="6" height="1.8" opacity="0.5"/><rect x="1547.0" y="439.0" width="8" height="1.8" opacity="0.7"/><rect x="1604.8" y="491.8" width="4" height="1.8" opacity="0.35"/><rect x="1653.6" y="581.1" width="5" height="1.8" opacity="0.7"/><rect x="1632.1" y="98.8" width="5" height="1.8" opacity="0.9"/><rect x="1807.6" y="387.0" width="3" height="1.8" opacity="0.5"/><rect x="1411.1" y="289.4" width="4" height="1.8" opacity="0.9"/><rect x="1641.1" y="508.8" width="6" height="1.8" opacity="0.9"/><rect x="1681.6" y="516.0" width="4" height="1.8" opacity="0.9"/><rect x="1857.9" y="433.4" width="5" height="1.8" opacity="0.9"/><rect x="1645.1" y="441.7" width="4" height="1.8" opacity="0.9"/><rect x="1652.9" y="397.0" width="8" height="1.8" opacity="0.9"/><rect x="1907.0" y="423.2" width="8" height="1.8" opacity="0.35"/><rect x="1623.0" y="517.2" width="3" height="1.8" opacity="0.9"/><rect x="1571.6" y="687.4" width="6" height="1.8" opacity="0.7"/><rect x="1584.8" y="597.1" width="6" height="1.8" opacity="0.7"/><rect x="1368.3" y="343.5" width="3" height="1.8" opacity="0.7"/><rect x="1711.3" y="534.3" width="10" height="1.8" opacity="0.9"/><rect x="1311.5" y="480.1" width="8" height="1.8" opacity="0.5"/><rect x="1654.4" y="627.9" width="8" height="1.8" opacity="0.5"/><rect x="1648.7" y="619.8" width="8" height="1.8" opacity="0.5"/><rect x="1451.0" y="549.1" width="5" height="1.8" opacity="0.5"/><rect x="1506.4" y="276.6" width="4" height="1.8" opacity="0.5"/></g><g fill="none" stroke="#fff" stroke-width="4.2" stroke-linejoin="round" stroke-linecap="round" filter="url(#b05)"><path d="M1311.2 255.0C1312.9 253.8 1317.5 249.4 1321.6 247.7C1325.7 246.0 1330.8 244.9 1336.0 244.6C1341.2 244.2 1346.5 244.4 1352.8 245.6C1359.0 246.8 1366.6 249.7 1373.5 251.8C1380.4 253.9 1387.4 255.7 1394.3 258.0C1401.2 260.3 1408.8 263.5 1415.0 265.4C1421.2 267.3 1428.9 268.8 1431.7 269.5"/><path d="M1882.0 273.0L1901.4 261.4L1917.5 263.0L1937.0 269.5L1953.0 264.7L1971.0 263.0"/><path d="M1971.0 512.0C1968.8 514.4 1961.9 522.2 1957.8 526.2C1953.7 530.2 1950.5 533.7 1946.2 536.3C1941.9 538.9 1938.0 540.8 1931.8 542.0C1925.5 543.2 1917.4 544.2 1908.7 543.5C1900.0 542.8 1889.4 540.4 1879.8 537.7C1870.2 535.1 1859.4 531.0 1851.0 527.6C1842.6 524.2 1832.9 519.2 1829.3 517.5"/><path d="M1394.0 516.5L1369.5 522.5L1355.0 532.5L1337.7 526.0L1326.0 517.5L1288.0 526.0"/><path d="M1288.0 208.0C1288.8 207.5 1289.5 206.7 1292.5 205.0C1295.5 203.3 1301.2 199.0 1306.0 198.0C1310.8 197.0 1315.5 197.2 1321.6 199.0C1327.7 200.8 1335.8 205.3 1342.4 209.0C1349.0 212.7 1355.8 217.9 1361.0 221.0C1366.2 224.1 1371.4 226.4 1373.5 227.5"/><path d="M1878.7 250.5C1884.1 248.0 1900.2 239.2 1911.0 235.6C1921.8 232.0 1933.4 230.4 1943.4 229.0C1953.4 227.6 1966.4 227.6 1971.0 227.3"/><path d="M1288.0 564.5C1293.8 563.4 1312.3 560.5 1323.0 558.0C1333.7 555.5 1342.3 552.5 1352.0 549.3C1361.7 546.1 1376.2 540.7 1381.0 539.0"/><path d="M1882.7 560.8C1885.1 562.0 1891.2 564.9 1897.0 568.0C1902.8 571.1 1910.5 576.2 1917.3 579.6C1924.1 583.0 1931.8 586.4 1937.6 588.3C1943.4 590.2 1946.4 591.5 1952.0 591.0C1957.6 590.5 1967.8 586.4 1971.0 585.5"/></g><g filter="url(#b05)"><g fill="#ee3a32" opacity="0.75"><ellipse cx="1468.5" cy="120.1" rx="4.4" ry="2.0" transform="rotate(-31 1468.5 120.1)"/><ellipse cx="1479.8" cy="114.0" rx="4.4" ry="2.0" transform="rotate(-27 1479.8 114.0)"/><ellipse cx="1491.0" cy="108.2" rx="4.4" ry="2.0" transform="rotate(-27 1491.0 108.2)"/><ellipse cx="1502.4" cy="102.6" rx="4.4" ry="2.0" transform="rotate(-26 1502.4 102.6)"/><ellipse cx="1513.9" cy="97.1" rx="4.4" ry="2.0" transform="rotate(-25 1513.9 97.1)"/></g><g fill="#ee3a32" opacity="0.75"><ellipse cx="1757.5" cy="103.9" rx="4.4" ry="2.0" transform="rotate(-146 1757.5 103.9)"/><ellipse cx="1746.9" cy="97.0" rx="4.4" ry="2.0" transform="rotate(-147 1746.9 97.0)"/><ellipse cx="1736.0" cy="90.3" rx="4.4" ry="2.0" transform="rotate(-150 1736.0 90.3)"/></g><g fill="#ee3a32" opacity="0.75"><ellipse cx="1481.2" cy="671.4" rx="4.4" ry="2.0" transform="rotate(43 1481.2 671.4)"/><ellipse cx="1490.8" cy="680.0" rx="4.4" ry="2.0" transform="rotate(39 1490.8 680.0)"/><ellipse cx="1501.0" cy="687.9" rx="4.4" ry="2.0" transform="rotate(36 1501.0 687.9)"/></g><g fill="#ee3a32" opacity="0.75"><ellipse cx="1780.2" cy="677.8" rx="4.4" ry="2.0" transform="rotate(148 1780.2 677.8)"/><ellipse cx="1769.3" cy="684.4" rx="4.4" ry="2.0" transform="rotate(150 1769.3 684.4)"/><ellipse cx="1758.5" cy="690.8" rx="4.4" ry="2.0" transform="rotate(149 1758.5 690.8)"/><ellipse cx="1747.4" cy="697.2" rx="4.4" ry="2.0" transform="rotate(152 1747.4 697.2)"/></g><g fill="#f02a20" opacity="0.95"><ellipse cx="1525.6" cy="92.3" rx="5.6" ry="2.7" transform="rotate(-23 1525.6 92.3)"/><ellipse cx="1537.3" cy="87.4" rx="5.6" ry="2.7" transform="rotate(-23 1537.3 87.4)"/><ellipse cx="1549.3" cy="82.8" rx="5.6" ry="2.7" transform="rotate(-20 1549.3 82.8)"/><ellipse cx="1561.2" cy="78.6" rx="5.6" ry="2.7" transform="rotate(-19 1561.2 78.6)"/><ellipse cx="1573.3" cy="74.7" rx="5.6" ry="2.7" transform="rotate(-17 1573.3 74.7)"/><ellipse cx="1585.7" cy="71.1" rx="5.6" ry="2.7" transform="rotate(-13 1585.7 71.1)"/><ellipse cx="1598.1" cy="68.5" rx="5.6" ry="2.7" transform="rotate(-12 1598.1 68.5)"/><ellipse cx="1609.9" cy="65.4" rx="5.6" ry="2.7" transform="rotate(-17 1609.9 65.4)"/><ellipse cx="1621.9" cy="61.6" rx="5.6" ry="2.7" transform="rotate(-18 1621.9 61.6)"/></g><g fill="#f02a20" opacity="0.95"><ellipse cx="1724.5" cy="84.5" rx="5.6" ry="2.7" transform="rotate(-154 1724.5 84.5)"/><ellipse cx="1712.9" cy="79.1" rx="5.6" ry="2.7" transform="rotate(-156 1712.9 79.1)"/><ellipse cx="1701.2" cy="74.1" rx="5.6" ry="2.7" transform="rotate(-157 1701.2 74.1)"/><ellipse cx="1689.7" cy="69.2" rx="5.6" ry="2.7" transform="rotate(-157 1689.7 69.2)"/><ellipse cx="1678.4" cy="64.0" rx="5.6" ry="2.7" transform="rotate(-153 1678.4 64.0)"/></g><g fill="#f02a20" opacity="0.95"><ellipse cx="1511.6" cy="694.8" rx="5.6" ry="2.7" transform="rotate(35 1511.6 694.8)"/><ellipse cx="1522.2" cy="701.9" rx="5.6" ry="2.7" transform="rotate(32 1522.2 701.9)"/><ellipse cx="1533.3" cy="708.4" rx="5.6" ry="2.7" transform="rotate(29 1533.3 708.4)"/><ellipse cx="1544.8" cy="714.3" rx="5.6" ry="2.7" transform="rotate(25 1544.8 714.3)"/><ellipse cx="1556.6" cy="719.4" rx="5.6" ry="2.7" transform="rotate(21 1556.6 719.4)"/><ellipse cx="1568.7" cy="723.6" rx="5.6" ry="2.7" transform="rotate(19 1568.7 723.6)"/></g><g fill="#f02a20" opacity="0.95"><ellipse cx="1735.6" cy="702.5" rx="5.6" ry="2.7" transform="rotate(156 1735.6 702.5)"/><ellipse cx="1723.6" cy="707.3" rx="5.6" ry="2.7" transform="rotate(160 1723.6 707.3)"/><ellipse cx="1711.3" cy="711.1" rx="5.6" ry="2.7" transform="rotate(165 1711.3 711.1)"/><ellipse cx="1698.8" cy="714.1" rx="5.6" ry="2.7" transform="rotate(168 1698.8 714.1)"/><ellipse cx="1686.3" cy="716.5" rx="5.6" ry="2.7" transform="rotate(169 1686.3 716.5)"/><ellipse cx="1673.9" cy="718.8" rx="5.6" ry="2.7" transform="rotate(169 1673.9 718.8)"/><ellipse cx="1661.8" cy="721.4" rx="5.6" ry="2.7" transform="rotate(167 1661.8 721.4)"/><ellipse cx="1649.8" cy="724.5" rx="5.6" ry="2.7" transform="rotate(164 1649.8 724.5)"/></g></g><g filter="url(#b05)"><g fill="#fff" opacity="1.0" stroke="#fff" stroke-width="2.2" stroke-linejoin="round"><path d="M1372.4 224.5L1376.2 221.9L1380.0 224.5L1376.2 227.1Z"/><path d="M1380.9 215.3L1384.7 212.7L1388.5 215.3L1384.7 217.9Z"/><path d="M1389.6 206.2L1393.4 203.6L1397.2 206.2L1393.4 208.8Z"/><path d="M1398.2 196.9L1402.0 194.3L1405.8 196.9L1402.0 199.5Z"/><path d="M1405.8 186.9L1409.6 184.3L1413.4 186.9L1409.6 189.5Z"/><path d="M1413.4 176.8L1417.2 174.2L1421.0 176.8L1417.2 179.4Z"/></g><g fill="#fff" opacity="1.0" stroke="#fff" stroke-width="2.2" stroke-linejoin="round"><path d="M1420.2 167.4L1425.6 163.8L1431.0 167.4L1425.6 171.0Z"/><path d="M1428.2 157.7L1433.6 154.1L1439.0 157.7L1433.6 161.3Z"/><path d="M1436.7 148.4L1442.1 144.8L1447.5 148.4L1442.1 152.0Z"/><path d="M1445.6 139.5L1451.0 135.9L1456.4 139.5L1451.0 143.1Z"/><path d="M1455.1 131.2L1460.5 127.6L1465.9 131.2L1460.5 134.8Z"/><path d="M1465.5 124.1L1470.9 120.5L1476.3 124.1L1470.9 127.7Z"/><path d="M1476.5 118.1L1481.9 114.5L1487.3 118.1L1481.9 121.7Z"/><path d="M1487.7 112.3L1493.1 108.7L1498.5 112.3L1493.1 115.9Z"/><path d="M1499.0 106.7L1504.4 103.1L1509.8 106.7L1504.4 110.3Z"/><path d="M1510.4 101.3L1515.8 97.7L1521.2 101.3L1515.8 104.9Z"/><path d="M1521.9 96.2L1527.3 92.6L1532.7 96.2L1527.3 99.8Z"/><path d="M1533.5 91.3L1538.9 87.7L1544.3 91.3L1538.9 94.9Z"/><path d="M1545.3 86.8L1550.7 83.2L1556.1 86.8L1550.7 90.4Z"/></g><g fill="#f0928c"><ellipse cx="1425.6" cy="167.4" rx="3.2" ry="2.1"/><ellipse cx="1433.6" cy="157.7" rx="3.2" ry="2.1"/><ellipse cx="1442.1" cy="148.4" rx="3.2" ry="2.1"/><ellipse cx="1451.0" cy="139.5" rx="3.2" ry="2.1"/><ellipse cx="1460.5" cy="131.2" rx="3.2" ry="2.1"/><ellipse cx="1470.9" cy="124.1" rx="3.2" ry="2.1"/><ellipse cx="1481.9" cy="118.1" rx="3.2" ry="2.1"/><ellipse cx="1493.1" cy="112.3" rx="3.2" ry="2.1"/><ellipse cx="1504.4" cy="106.7" rx="3.2" ry="2.1"/><ellipse cx="1515.8" cy="101.3" rx="3.2" ry="2.1"/><ellipse cx="1527.3" cy="96.2" rx="3.2" ry="2.1"/><ellipse cx="1538.9" cy="91.3" rx="3.2" ry="2.1"/><ellipse cx="1550.7" cy="86.8" rx="3.2" ry="2.1"/></g><g fill="#fff" opacity="1.0" stroke="#fff" stroke-width="2.2" stroke-linejoin="round"><path d="M1872.7 250.0L1876.7 247.3L1880.7 250.0L1876.7 252.7Z"/><path d="M1865.9 239.4L1869.9 236.7L1873.9 239.4L1869.9 242.1Z"/><path d="M1859.3 228.6L1863.3 225.9L1867.3 228.6L1863.3 231.3Z"/><path d="M1851.8 218.5L1855.8 215.8L1859.8 218.5L1855.8 221.2Z"/><path d="M1844.4 208.3L1848.4 205.6L1852.4 208.3L1848.4 211.0Z"/></g><g fill="#fff" opacity="1.0" stroke="#fff" stroke-width="2.2" stroke-linejoin="round"><path d="M1836.1 197.8L1841.5 194.2L1846.9 197.8L1841.5 201.4Z"/><path d="M1829.0 187.3L1834.4 183.7L1839.8 187.3L1834.4 190.9Z"/><path d="M1821.8 177.0L1827.2 173.4L1832.6 177.0L1827.2 180.6Z"/><path d="M1814.3 166.9L1819.7 163.3L1825.1 166.9L1819.7 170.5Z"/><path d="M1806.4 157.1L1811.8 153.5L1817.2 157.1L1811.8 160.7Z"/><path d="M1798.1 147.6L1803.5 144.0L1808.9 147.6L1803.5 151.2Z"/><path d="M1789.4 138.5L1794.8 134.9L1800.2 138.5L1794.8 142.1Z"/><path d="M1780.1 130.0L1785.5 126.4L1790.9 130.0L1785.5 133.6Z"/><path d="M1770.2 122.3L1775.6 118.7L1781.0 122.3L1775.6 125.9Z"/><path d="M1759.9 114.9L1765.3 111.3L1770.7 114.9L1765.3 118.5Z"/><path d="M1749.5 107.8L1754.9 104.2L1760.3 107.8L1754.9 111.4Z"/><path d="M1739.0 100.8L1744.4 97.2L1749.8 100.8L1744.4 104.4Z"/><path d="M1728.3 94.3L1733.7 90.7L1739.1 94.3L1733.7 97.9Z"/><path d="M1717.2 88.3L1722.6 84.7L1728.0 88.3L1722.6 91.9Z"/></g><g fill="#f0928c"><ellipse cx="1841.5" cy="197.8" rx="3.2" ry="2.1"/><ellipse cx="1834.4" cy="187.3" rx="3.2" ry="2.1"/><ellipse cx="1827.2" cy="177.0" rx="3.2" ry="2.1"/><ellipse cx="1819.7" cy="166.9" rx="3.2" ry="2.1"/><ellipse cx="1811.8" cy="157.1" rx="3.2" ry="2.1"/><ellipse cx="1803.5" cy="147.6" rx="3.2" ry="2.1"/><ellipse cx="1794.8" cy="138.5" rx="3.2" ry="2.1"/><ellipse cx="1785.5" cy="130.0" rx="3.2" ry="2.1"/><ellipse cx="1775.6" cy="122.3" rx="3.2" ry="2.1"/><ellipse cx="1765.3" cy="114.9" rx="3.2" ry="2.1"/><ellipse cx="1754.9" cy="107.8" rx="3.2" ry="2.1"/><ellipse cx="1744.4" cy="100.8" rx="3.2" ry="2.1"/><ellipse cx="1733.7" cy="94.3" rx="3.2" ry="2.1"/><ellipse cx="1722.6" cy="88.3" rx="3.2" ry="2.1"/></g><g fill="#fff" opacity="1.0" stroke="#fff" stroke-width="2.2" stroke-linejoin="round"><path d="M1388.8 548.6L1392.8 545.9L1396.8 548.6L1392.8 551.3Z"/><path d="M1394.7 559.7L1398.7 557.0L1402.7 559.7L1398.7 562.4Z"/><path d="M1401.2 570.5L1405.2 567.8L1409.2 570.5L1405.2 573.2Z"/><path d="M1407.9 581.1L1411.9 578.4L1415.9 581.1L1411.9 583.8Z"/></g><g fill="#fff" opacity="1.0" stroke="#fff" stroke-width="2.2" stroke-linejoin="round"><path d="M1413.6 591.6L1419.0 588.0L1424.4 591.6L1419.0 595.2Z"/><path d="M1420.8 601.9L1426.2 598.3L1431.6 601.9L1426.2 605.5Z"/><path d="M1428.4 612.0L1433.8 608.4L1439.2 612.0L1433.8 615.6Z"/><path d="M1436.1 621.9L1441.5 618.3L1446.9 621.9L1441.5 625.5Z"/><path d="M1444.0 631.8L1449.4 628.2L1454.8 631.8L1449.4 635.4Z"/><path d="M1452.1 641.4L1457.5 637.8L1462.9 641.4L1457.5 645.0Z"/><path d="M1460.8 650.5L1466.2 646.9L1471.6 650.5L1466.2 654.1Z"/><path d="M1469.8 659.3L1475.2 655.7L1480.6 659.3L1475.2 662.9Z"/><path d="M1478.9 668.0L1484.3 664.4L1489.7 668.0L1484.3 671.6Z"/><path d="M1488.3 676.4L1493.7 672.8L1499.1 676.4L1493.7 680.0Z"/><path d="M1498.3 684.1L1503.7 680.5L1509.1 684.1L1503.7 687.7Z"/><path d="M1508.6 691.4L1514.0 687.8L1519.4 691.4L1514.0 695.0Z"/><path d="M1519.1 698.4L1524.5 694.8L1529.9 698.4L1524.5 702.0Z"/></g><g fill="#f0928c"><ellipse cx="1419.0" cy="591.6" rx="3.2" ry="2.1"/><ellipse cx="1426.2" cy="601.9" rx="3.2" ry="2.1"/><ellipse cx="1433.8" cy="612.0" rx="3.2" ry="2.1"/><ellipse cx="1441.5" cy="621.9" rx="3.2" ry="2.1"/><ellipse cx="1449.4" cy="631.8" rx="3.2" ry="2.1"/><ellipse cx="1457.5" cy="641.4" rx="3.2" ry="2.1"/><ellipse cx="1466.2" cy="650.5" rx="3.2" ry="2.1"/><ellipse cx="1475.2" cy="659.3" rx="3.2" ry="2.1"/><ellipse cx="1484.3" cy="668.0" rx="3.2" ry="2.1"/><ellipse cx="1493.7" cy="676.4" rx="3.2" ry="2.1"/><ellipse cx="1503.7" cy="684.1" rx="3.2" ry="2.1"/><ellipse cx="1514.0" cy="691.4" rx="3.2" ry="2.1"/><ellipse cx="1524.5" cy="698.4" rx="3.2" ry="2.1"/></g><g fill="#fff" opacity="1.0" stroke="#fff" stroke-width="2.2" stroke-linejoin="round"><path d="M1875.9 563.6L1879.9 560.9L1883.9 563.6L1879.9 566.3Z"/><path d="M1868.5 573.8L1872.5 571.1L1876.5 573.8L1872.5 576.5Z"/><path d="M1861.0 583.9L1865.0 581.2L1869.0 583.9L1865.0 586.6Z"/><path d="M1853.3 593.9L1857.3 591.2L1861.3 593.9L1857.3 596.6Z"/><path d="M1845.5 603.7L1849.5 601.0L1853.5 603.7L1849.5 606.4Z"/></g><g fill="#fff" opacity="1.0" stroke="#fff" stroke-width="2.2" stroke-linejoin="round"><path d="M1836.0 613.4L1841.4 609.8L1846.8 613.4L1841.4 617.0Z"/><path d="M1827.8 623.0L1833.2 619.4L1838.6 623.0L1833.2 626.6Z"/><path d="M1819.6 632.6L1825.0 629.0L1830.4 632.6L1825.0 636.2Z"/><path d="M1811.0 641.8L1816.4 638.2L1821.8 641.8L1816.4 645.4Z"/><path d="M1802.1 650.7L1807.5 647.1L1812.9 650.7L1807.5 654.3Z"/><path d="M1792.8 659.1L1798.2 655.5L1803.6 659.1L1798.2 662.7Z"/><path d="M1782.9 667.0L1788.3 663.4L1793.7 667.0L1788.3 670.6Z"/><path d="M1772.4 673.9L1777.8 670.3L1783.2 673.9L1777.8 677.5Z"/><path d="M1761.6 680.4L1767.0 676.8L1772.4 680.4L1767.0 684.0Z"/><path d="M1750.7 686.8L1756.1 683.2L1761.5 686.8L1756.1 690.4Z"/><path d="M1739.8 693.1L1745.2 689.5L1750.6 693.1L1745.2 696.7Z"/><path d="M1728.5 698.7L1733.9 695.1L1739.3 698.7L1733.9 702.3Z"/><path d="M1716.8 703.4L1722.2 699.8L1727.6 703.4L1722.2 707.0Z"/></g><g fill="#f0928c"><ellipse cx="1841.4" cy="613.4" rx="3.2" ry="2.1"/><ellipse cx="1833.2" cy="623.0" rx="3.2" ry="2.1"/><ellipse cx="1825.0" cy="632.6" rx="3.2" ry="2.1"/><ellipse cx="1816.4" cy="641.8" rx="3.2" ry="2.1"/><ellipse cx="1807.5" cy="650.7" rx="3.2" ry="2.1"/><ellipse cx="1798.2" cy="659.1" rx="3.2" ry="2.1"/><ellipse cx="1788.3" cy="667.0" rx="3.2" ry="2.1"/><ellipse cx="1777.8" cy="673.9" rx="3.2" ry="2.1"/><ellipse cx="1767.0" cy="680.4" rx="3.2" ry="2.1"/><ellipse cx="1756.1" cy="686.8" rx="3.2" ry="2.1"/><ellipse cx="1745.2" cy="693.1" rx="3.2" ry="2.1"/><ellipse cx="1733.9" cy="698.7" rx="3.2" ry="2.1"/><ellipse cx="1722.2" cy="703.4" rx="3.2" ry="2.1"/></g><g fill="#fff" opacity="1.0" stroke="#fff" stroke-width="2.2" stroke-linejoin="round"><path d="M1433.2 262.5L1436.5 260.3L1439.8 262.5L1436.5 264.7Z"/><path d="M1440.0 253.7L1443.3 251.5L1446.6 253.7L1443.3 255.9Z"/><path d="M1446.5 242.9L1449.8 240.7L1453.1 242.9L1449.8 245.1Z"/><path d="M1452.7 232.0L1456.0 229.8L1459.3 232.0L1456.0 234.2Z"/><path d="M1458.9 221.1L1462.2 218.9L1465.5 221.1L1462.2 223.3Z"/><path d="M1465.0 210.0L1468.3 207.8L1471.6 210.0L1468.3 212.2Z"/></g><g fill="#fff" opacity="1.0" stroke="#fff" stroke-width="2.2" stroke-linejoin="round"><path d="M1470.3 199.2L1474.7 196.2L1479.1 199.2L1474.7 202.2Z"/><path d="M1475.8 188.0L1480.2 185.0L1484.6 188.0L1480.2 191.0Z"/><path d="M1482.2 176.8L1486.6 173.8L1491.0 176.8L1486.6 179.8Z"/><path d="M1489.0 166.1L1493.4 163.1L1497.8 166.1L1493.4 169.1Z"/><path d="M1495.9 155.5L1500.3 152.5L1504.7 155.5L1500.3 158.5Z"/><path d="M1503.2 145.0L1507.6 142.0L1512.0 145.0L1507.6 148.0Z"/><path d="M1511.5 135.3L1515.9 132.3L1520.3 135.3L1515.9 138.3Z"/><path d="M1519.7 125.7L1524.1 122.7L1528.5 125.7L1524.1 128.7Z"/><path d="M1528.3 116.3L1532.7 113.3L1537.1 116.3L1532.7 119.3Z"/><path d="M1537.1 107.1L1541.5 104.1L1545.9 107.1L1541.5 110.1Z"/><path d="M1546.8 98.5L1551.2 95.5L1555.6 98.5L1551.2 101.5Z"/><path d="M1557.2 91.0L1561.6 88.0L1566.0 91.0L1561.6 94.0Z"/><path d="M1568.2 84.2L1572.6 81.2L1577.0 84.2L1572.6 87.2Z"/><path d="M1579.7 78.4L1584.1 75.4L1588.5 78.4L1584.1 81.4Z"/></g><g fill="#f0928c"><ellipse cx="1474.7" cy="199.2" rx="3.0" ry="2.0"/><ellipse cx="1480.2" cy="188.0" rx="3.0" ry="2.0"/><ellipse cx="1486.6" cy="176.8" rx="3.0" ry="2.0"/><ellipse cx="1493.4" cy="166.1" rx="3.0" ry="2.0"/><ellipse cx="1500.3" cy="155.5" rx="3.0" ry="2.0"/><ellipse cx="1507.6" cy="145.0" rx="3.0" ry="2.0"/><ellipse cx="1515.9" cy="135.3" rx="3.0" ry="2.0"/><ellipse cx="1524.1" cy="125.7" rx="3.0" ry="2.0"/><ellipse cx="1532.7" cy="116.3" rx="3.0" ry="2.0"/><ellipse cx="1541.5" cy="107.1" rx="3.0" ry="2.0"/><ellipse cx="1551.2" cy="98.5" rx="3.0" ry="2.0"/><ellipse cx="1561.6" cy="91.0" rx="3.0" ry="2.0"/><ellipse cx="1572.6" cy="84.2" rx="3.0" ry="2.0"/><ellipse cx="1584.1" cy="78.4" rx="3.0" ry="2.0"/></g><g fill="#fff" opacity="1.0" stroke="#fff" stroke-width="2.2" stroke-linejoin="round"><path d="M1874.0 265.8L1877.3 263.6L1880.6 265.8L1877.3 268.0Z"/><path d="M1864.6 258.1L1867.9 255.9L1871.2 258.1L1867.9 260.3Z"/><path d="M1856.3 249.3L1859.6 247.1L1862.9 249.3L1859.6 251.5Z"/><path d="M1848.6 239.4L1851.9 237.2L1855.2 239.4L1851.9 241.6Z"/><path d="M1840.8 229.4L1844.1 227.2L1847.4 229.4L1844.1 231.6Z"/></g><g fill="#fff" opacity="1.0" stroke="#fff" stroke-width="2.2" stroke-linejoin="round"><path d="M1831.9 219.7L1836.3 216.7L1840.7 219.7L1836.3 222.7Z"/><path d="M1824.5 209.6L1828.9 206.6L1833.3 209.6L1828.9 212.6Z"/><path d="M1817.2 199.4L1821.6 196.4L1826.0 199.4L1821.6 202.4Z"/><path d="M1810.2 188.9L1814.6 185.9L1819.0 188.9L1814.6 191.9Z"/><path d="M1802.8 178.6L1807.2 175.6L1811.6 178.6L1807.2 181.6Z"/><path d="M1795.3 168.5L1799.7 165.5L1804.1 168.5L1799.7 171.5Z"/><path d="M1787.8 158.3L1792.2 155.3L1796.6 158.3L1792.2 161.3Z"/><path d="M1779.9 148.3L1784.3 145.3L1788.7 148.3L1784.3 151.3Z"/><path d="M1771.5 138.7L1775.9 135.7L1780.3 138.7L1775.9 141.7Z"/><path d="M1762.8 129.4L1767.2 126.4L1771.6 129.4L1767.2 132.4Z"/><path d="M1753.7 120.5L1758.1 117.5L1762.5 120.5L1758.1 123.5Z"/><path d="M1744.5 111.8L1748.9 108.8L1753.3 111.8L1748.9 114.8Z"/><path d="M1734.9 103.4L1739.3 100.4L1743.7 103.4L1739.3 106.4Z"/><path d="M1724.8 95.5L1729.2 92.5L1733.6 95.5L1729.2 98.5Z"/><path d="M1714.3 88.2L1718.7 85.2L1723.1 88.2L1718.7 91.2Z"/><path d="M1703.0 81.8L1707.4 78.8L1711.8 81.8L1707.4 84.8Z"/></g><g fill="#f0928c"><ellipse cx="1836.3" cy="219.7" rx="3.0" ry="2.0"/><ellipse cx="1828.9" cy="209.6" rx="3.0" ry="2.0"/><ellipse cx="1821.6" cy="199.4" rx="3.0" ry="2.0"/><ellipse cx="1814.6" cy="188.9" rx="3.0" ry="2.0"/><ellipse cx="1807.2" cy="178.6" rx="3.0" ry="2.0"/><ellipse cx="1799.7" cy="168.5" rx="3.0" ry="2.0"/><ellipse cx="1792.2" cy="158.3" rx="3.0" ry="2.0"/><ellipse cx="1784.3" cy="148.3" rx="3.0" ry="2.0"/><ellipse cx="1775.9" cy="138.7" rx="3.0" ry="2.0"/><ellipse cx="1767.2" cy="129.4" rx="3.0" ry="2.0"/><ellipse cx="1758.1" cy="120.5" rx="3.0" ry="2.0"/><ellipse cx="1748.9" cy="111.8" rx="3.0" ry="2.0"/><ellipse cx="1739.3" cy="103.4" rx="3.0" ry="2.0"/><ellipse cx="1729.2" cy="95.5" rx="3.0" ry="2.0"/><ellipse cx="1718.7" cy="88.2" rx="3.0" ry="2.0"/><ellipse cx="1707.4" cy="81.8" rx="3.0" ry="2.0"/></g><g fill="#fff" opacity="1.0" stroke="#fff" stroke-width="2.2" stroke-linejoin="round"><path d="M1391.9 525.1L1395.2 522.9L1398.5 525.1L1395.2 527.3Z"/><path d="M1398.5 535.9L1401.8 533.7L1405.1 535.9L1401.8 538.1Z"/><path d="M1405.7 546.5L1409.0 544.3L1412.3 546.5L1409.0 548.7Z"/><path d="M1413.1 556.7L1416.4 554.5L1419.7 556.7L1416.4 558.9Z"/><path d="M1420.5 567.0L1423.8 564.8L1427.1 567.0L1423.8 569.2Z"/><path d="M1427.8 577.2L1431.1 575.0L1434.4 577.2L1431.1 579.4Z"/></g><g fill="#fff" opacity="1.0" stroke="#fff" stroke-width="2.2" stroke-linejoin="round"><path d="M1434.0 587.4L1438.4 584.4L1442.8 587.4L1438.4 590.4Z"/><path d="M1441.3 597.7L1445.7 594.7L1450.1 597.7L1445.7 600.7Z"/><path d="M1448.5 608.0L1452.9 605.0L1457.3 608.0L1452.9 611.0Z"/><path d="M1455.9 618.3L1460.3 615.3L1464.7 618.3L1460.3 621.3Z"/><path d="M1464.0 628.3L1468.4 625.3L1472.8 628.3L1468.4 631.3Z"/><path d="M1472.3 637.8L1476.7 634.8L1481.1 637.8L1476.7 640.8Z"/><path d="M1480.4 647.4L1484.8 644.4L1489.2 647.4L1484.8 650.4Z"/><path d="M1488.6 657.0L1493.0 654.0L1497.4 657.0L1493.0 660.0Z"/><path d="M1497.3 666.4L1501.7 663.4L1506.1 666.4L1501.7 669.4Z"/><path d="M1506.4 675.3L1510.8 672.3L1515.2 675.3L1510.8 678.3Z"/><path d="M1515.5 684.0L1519.9 681.0L1524.3 684.0L1519.9 687.0Z"/><path d="M1525.0 692.6L1529.4 689.6L1533.8 692.6L1529.4 695.6Z"/><path d="M1535.3 700.4L1539.7 697.4L1544.1 700.4L1539.7 703.4Z"/><path d="M1546.2 707.2L1550.6 704.2L1555.0 707.2L1550.6 710.2Z"/></g><g fill="#f0928c"><ellipse cx="1438.4" cy="587.4" rx="3.0" ry="2.0"/><ellipse cx="1445.7" cy="597.7" rx="3.0" ry="2.0"/><ellipse cx="1452.9" cy="608.0" rx="3.0" ry="2.0"/><ellipse cx="1460.3" cy="618.3" rx="3.0" ry="2.0"/><ellipse cx="1468.4" cy="628.3" rx="3.0" ry="2.0"/><ellipse cx="1476.7" cy="637.8" rx="3.0" ry="2.0"/><ellipse cx="1484.8" cy="647.4" rx="3.0" ry="2.0"/><ellipse cx="1493.0" cy="657.0" rx="3.0" ry="2.0"/><ellipse cx="1501.7" cy="666.4" rx="3.0" ry="2.0"/><ellipse cx="1510.8" cy="675.3" rx="3.0" ry="2.0"/><ellipse cx="1519.9" cy="684.0" rx="3.0" ry="2.0"/><ellipse cx="1529.4" cy="692.6" rx="3.0" ry="2.0"/><ellipse cx="1539.7" cy="700.4" rx="3.0" ry="2.0"/><ellipse cx="1550.6" cy="707.2" rx="3.0" ry="2.0"/></g><g fill="#fff" opacity="1.0" stroke="#fff" stroke-width="2.2" stroke-linejoin="round"><path d="M1824.1 526.0L1827.4 523.8L1830.7 526.0L1827.4 528.2Z"/><path d="M1817.3 536.2L1820.6 534.0L1823.9 536.2L1820.6 538.4Z"/><path d="M1811.1 547.1L1814.4 544.9L1817.7 547.1L1814.4 549.3Z"/><path d="M1804.7 558.1L1808.0 555.9L1811.3 558.1L1808.0 560.3Z"/><path d="M1798.0 568.8L1801.3 566.6L1804.6 568.8L1801.3 571.0Z"/></g><g fill="#fff" opacity="1.0" stroke="#fff" stroke-width="2.2" stroke-linejoin="round"><path d="M1790.2 579.5L1794.6 576.5L1799.0 579.5L1794.6 582.5Z"/><path d="M1783.5 590.2L1787.9 587.2L1792.3 590.2L1787.9 593.2Z"/><path d="M1776.9 600.9L1781.3 597.9L1785.7 600.9L1781.3 603.9Z"/><path d="M1770.2 611.6L1774.6 608.6L1779.0 611.6L1774.6 614.6Z"/><path d="M1763.4 622.3L1767.8 619.3L1772.2 622.3L1767.8 625.3Z"/><path d="M1756.3 632.8L1760.7 629.8L1765.1 632.8L1760.7 635.8Z"/><path d="M1748.8 643.1L1753.2 640.1L1757.6 643.1L1753.2 646.1Z"/><path d="M1740.9 653.1L1745.3 650.1L1749.7 653.1L1745.3 656.1Z"/><path d="M1732.4 662.6L1736.8 659.6L1741.2 662.6L1736.8 665.6Z"/><path d="M1723.7 671.8L1728.1 668.8L1732.5 671.8L1728.1 674.8Z"/><path d="M1714.8 680.9L1719.2 677.9L1723.6 680.9L1719.2 683.9Z"/><path d="M1705.4 689.6L1709.8 686.6L1714.2 689.6L1709.8 692.6Z"/><path d="M1695.4 697.6L1699.8 694.6L1704.2 697.6L1699.8 700.6Z"/><path d="M1684.9 705.0L1689.3 702.0L1693.7 705.0L1689.3 708.0Z"/></g><g fill="#f0928c"><ellipse cx="1794.6" cy="579.5" rx="3.0" ry="2.0"/><ellipse cx="1787.9" cy="590.2" rx="3.0" ry="2.0"/><ellipse cx="1781.3" cy="600.9" rx="3.0" ry="2.0"/><ellipse cx="1774.6" cy="611.6" rx="3.0" ry="2.0"/><ellipse cx="1767.8" cy="622.3" rx="3.0" ry="2.0"/><ellipse cx="1760.7" cy="632.8" rx="3.0" ry="2.0"/><ellipse cx="1753.2" cy="643.1" rx="3.0" ry="2.0"/><ellipse cx="1745.3" cy="653.1" rx="3.0" ry="2.0"/><ellipse cx="1736.8" cy="662.6" rx="3.0" ry="2.0"/><ellipse cx="1728.1" cy="671.8" rx="3.0" ry="2.0"/><ellipse cx="1719.2" cy="680.9" rx="3.0" ry="2.0"/><ellipse cx="1709.8" cy="689.6" rx="3.0" ry="2.0"/><ellipse cx="1699.8" cy="697.6" rx="3.0" ry="2.0"/><ellipse cx="1689.3" cy="705.0" rx="3.0" ry="2.0"/></g><g fill="#fff" opacity="1.0" stroke="#fff" stroke-width="2.2" stroke-linejoin="round"><path d="M1290.9 273.3L1293.9 271.2L1296.9 273.3L1293.9 275.4Z"/><path d="M1298.7 265.5L1301.7 263.4L1304.7 265.5L1301.7 267.6Z"/><path d="M1305.9 257.2L1308.9 255.1L1311.9 257.2L1308.9 259.3Z"/><path d="M1314.5 250.4L1317.5 248.3L1320.5 250.4L1317.5 252.5Z"/></g><g fill="#fff" opacity="1.0" stroke="#fff" stroke-width="2.2" stroke-linejoin="round"><path d="M1930.7 541.3L1933.7 539.2L1936.7 541.3L1933.7 543.4Z"/><path d="M1941.0 537.5L1944.0 535.4L1947.0 537.5L1944.0 539.6Z"/><path d="M1949.9 531.1L1952.9 529.0L1955.9 531.1L1952.9 533.2Z"/><path d="M1957.6 523.3L1960.6 521.2L1963.6 523.3L1960.6 525.4Z"/><path d="M1965.1 515.2L1968.1 513.1L1971.1 515.2L1968.1 517.3Z"/></g></g><g filter="url(#b1)" opacity="0.75"><g fill="#fff" opacity="1.0" stroke="#fff" stroke-width="2.2" stroke-linejoin="round"><ellipse cx="1840.4" cy="119.8" rx="2.8" ry="2.2"/><ellipse cx="1849.4" cy="126.1" rx="2.8" ry="2.2"/><ellipse cx="1858.2" cy="132.8" rx="2.8" ry="2.2"/><ellipse cx="1866.4" cy="140.0" rx="2.8" ry="2.2"/><ellipse cx="1874.4" cy="147.6" rx="2.8" ry="2.2"/><ellipse cx="1882.0" cy="155.5" rx="2.8" ry="2.2"/><ellipse cx="1889.5" cy="163.6" rx="2.8" ry="2.2"/><ellipse cx="1896.5" cy="172.1" rx="2.8" ry="2.2"/><ellipse cx="1903.4" cy="180.7" rx="2.8" ry="2.2"/><ellipse cx="1910.1" cy="189.4" rx="2.8" ry="2.2"/><ellipse cx="1916.6" cy="198.3" rx="2.8" ry="2.2"/><ellipse cx="1922.8" cy="207.3" rx="2.8" ry="2.2"/><ellipse cx="1929.0" cy="216.5" rx="2.8" ry="2.2"/></g><g fill="#fff" opacity="1.0" stroke="#fff" stroke-width="2.2" stroke-linejoin="round"><ellipse cx="1874.5" cy="119.7" rx="2.5" ry="2.0"/><ellipse cx="1883.6" cy="125.8" rx="2.5" ry="2.0"/><ellipse cx="1892.6" cy="132.2" rx="2.5" ry="2.0"/><ellipse cx="1901.2" cy="139.0" rx="2.5" ry="2.0"/><ellipse cx="1909.3" cy="146.4" rx="2.5" ry="2.0"/><ellipse cx="1917.1" cy="154.2" rx="2.5" ry="2.0"/><ellipse cx="1924.7" cy="162.2" rx="2.5" ry="2.0"/><ellipse cx="1931.8" cy="170.6" rx="2.5" ry="2.0"/><ellipse cx="1938.4" cy="179.3" rx="2.5" ry="2.0"/><ellipse cx="1944.7" cy="188.3" rx="2.5" ry="2.0"/><ellipse cx="1951.0" cy="197.4" rx="2.5" ry="2.0"/><ellipse cx="1957.0" cy="206.6" rx="2.5" ry="2.0"/><ellipse cx="1962.8" cy="216.0" rx="2.5" ry="2.0"/></g><g fill="#fff" opacity="1.0" stroke="#fff" stroke-width="2.2" stroke-linejoin="round"><ellipse cx="1299.9" cy="582.3" rx="2.8" ry="2.2"/><ellipse cx="1306.9" cy="590.8" rx="2.8" ry="2.2"/><ellipse cx="1314.0" cy="599.2" rx="2.8" ry="2.2"/><ellipse cx="1321.3" cy="607.4" rx="2.8" ry="2.2"/><ellipse cx="1328.8" cy="615.4" rx="2.8" ry="2.2"/><ellipse cx="1336.5" cy="623.3" rx="2.8" ry="2.2"/><ellipse cx="1344.5" cy="630.9" rx="2.8" ry="2.2"/><ellipse cx="1352.9" cy="638.0" rx="2.8" ry="2.2"/><ellipse cx="1361.6" cy="644.7" rx="2.8" ry="2.2"/><ellipse cx="1370.6" cy="651.1" rx="2.8" ry="2.2"/><ellipse cx="1379.8" cy="657.1" rx="2.8" ry="2.2"/><ellipse cx="1389.3" cy="662.6" rx="2.8" ry="2.2"/><ellipse cx="1399.1" cy="667.5" rx="2.8" ry="2.2"/></g><g fill="#fff" opacity="1.0" stroke="#fff" stroke-width="2.2" stroke-linejoin="round"><ellipse cx="1329.9" cy="574.4" rx="2.6" ry="2.1"/><ellipse cx="1336.6" cy="583.0" rx="2.6" ry="2.1"/><ellipse cx="1343.4" cy="591.7" rx="2.6" ry="2.1"/><ellipse cx="1350.4" cy="600.2" rx="2.6" ry="2.1"/><ellipse cx="1357.6" cy="608.5" rx="2.6" ry="2.1"/><ellipse cx="1365.0" cy="616.7" rx="2.6" ry="2.1"/><ellipse cx="1372.5" cy="624.7" rx="2.6" ry="2.1"/><ellipse cx="1380.4" cy="632.4" rx="2.6" ry="2.1"/><ellipse cx="1388.7" cy="639.6" rx="2.6" ry="2.1"/><ellipse cx="1397.3" cy="646.4" rx="2.6" ry="2.1"/><ellipse cx="1406.1" cy="653.0" rx="2.6" ry="2.1"/><ellipse cx="1414.9" cy="659.7" rx="2.6" ry="2.1"/><ellipse cx="1423.8" cy="666.1" rx="2.6" ry="2.1"/></g><g fill="#fff" opacity="1.0" stroke="#fff" stroke-width="2.2" stroke-linejoin="round"><ellipse cx="1854.2" cy="602.4" rx="2.4" ry="2.0"/><ellipse cx="1847.7" cy="611.2" rx="2.4" ry="2.0"/><ellipse cx="1841.1" cy="620.0" rx="2.4" ry="2.0"/><ellipse cx="1834.3" cy="628.7" rx="2.4" ry="2.0"/><ellipse cx="1827.4" cy="637.3" rx="2.4" ry="2.0"/><ellipse cx="1820.3" cy="645.7" rx="2.4" ry="2.0"/><ellipse cx="1812.7" cy="653.6" rx="2.4" ry="2.0"/><ellipse cx="1804.8" cy="661.3" rx="2.4" ry="2.0"/></g></g></g>
<g stroke="#fff" stroke-width="3.5" stroke-dasharray="17.6 15.6" fill="none"><path d="M772 307 L299 481" stroke-dashoffset="11.5"/><path d="M346 308 L724 472.5" stroke-dashoffset="4.5"/></g><path d="M541 391.4 L541 719" stroke="#f0e850" stroke-width="3.4" stroke-dasharray="5.7 14.1" fill="none"/><path d="M376.6 173.9L427.2 179.3L403.2 188.2L433.2 210.0L428.2 216.8L398.3 194.9L397.1 220.4Z" fill="#7030a0"/><path d="M391.2 249.8L441.5 257.0L417.3 265.0L442.6 284.9L437.4 291.5L412.1 271.6L410.0 297.0Z" fill="#70ad47"/><text transform="translate(434.4 237.3) scale(1.005 1.04)" font-family='"Liberation Sans", sans-serif' font-size="37.5" fill="#fff">2<tspan font-style="italic">ΔB</tspan><tspan font-size="23.2" dy="8.6">2</tspan><tspan dy="-8.6">~12.1 mT</tspan></text><text transform="translate(450.0 309.3) scale(1.043 1.04)" font-family='"Liberation Sans", sans-serif' font-size="37.5" fill="#fff">2<tspan font-style="italic">ΔB</tspan><tspan font-size="23.2" dy="8.6">1</tspan><tspan dy="-8.6">~11.4 mT</tspan></text><text transform="translate(217.4 408.8) scale(1.0 1.02)" font-family='"Liberation Sans", sans-serif' font-size="39.6" fill="#fff">Initial</text>
<g stroke="#fff" stroke-width="3.5" stroke-dasharray="17.2 15.8" fill="none"><path d="M1882 274.4 L1393 516" stroke-dashoffset="0.5"/><path d="M1431.7 269.5 L1828 517" stroke-dashoffset="1"/></g><path d="M1634.4 392.4 L1634.4 719" stroke="#f0e850" stroke-width="3.3" stroke-dasharray="5.7 14.05" fill="none"/><path d="M1471.2 144.2L1521.2 153.7L1496.6 160.6L1534.0 193.0L1528.4 199.4L1491.1 167.0L1487.7 192.3Z" fill="#7030a0"/><path d="M1471.2 221.6L1521.4 229.4L1497.1 237.1L1533.8 266.8L1528.6 273.4L1491.8 243.7L1489.4 269.1Z" fill="#70ad47"/><text transform="translate(1544.2 214.7) scale(1.008 1.04)" font-family='"Liberation Sans", sans-serif' font-size="37.5" fill="#fff">2<tspan font-style="italic">ΔB</tspan><tspan font-size="23.2" dy="8.6">2</tspan><tspan dy="-8.6">~13.0 mT</tspan></text><text transform="translate(1544.2 288.6) scale(1.032 1.04)" font-family='"Liberation Sans", sans-serif' font-size="37.5" fill="#fff">2<tspan font-style="italic">ΔB</tspan><tspan font-size="23.2" dy="8.6">1</tspan><tspan dy="-8.6">~12.1 mT</tspan></text><text transform="translate(1324.6 406.8) scale(1.0 1.0)" font-family='"Liberation Sans", sans-serif' font-size="38.7" fill="#fff">From 17.8 K</text>
<g stroke="#000" stroke-width="2.5" fill="none"><line x1="177.0" y1="683.0" x2="190.0" y2="683.0"/><line x1="183.5" y1="610.3" x2="190.0" y2="610.3"/><line x1="177.0" y1="537.6" x2="190.0" y2="537.6"/><line x1="183.5" y1="465.0" x2="190.0" y2="465.0"/><line x1="177.0" y1="392.3" x2="190.0" y2="392.3"/><line x1="183.5" y1="319.6" x2="190.0" y2="319.6"/><line x1="177.0" y1="247.0" x2="190.0" y2="247.0"/><line x1="183.5" y1="174.3" x2="190.0" y2="174.3"/><line x1="177.0" y1="101.6" x2="190.0" y2="101.6"/><line x1="228.0" y1="719.4" x2="228.0" y2="732.4"/><line x1="303.7" y1="719.4" x2="303.7" y2="725.9"/><line x1="379.3" y1="719.4" x2="379.3" y2="732.4"/><line x1="455.0" y1="719.4" x2="455.0" y2="725.9"/><line x1="530.6" y1="719.4" x2="530.6" y2="732.4"/><line x1="606.2" y1="719.4" x2="606.2" y2="725.9"/><line x1="681.9" y1="719.4" x2="681.9" y2="732.4"/><line x1="757.5" y1="719.4" x2="757.5" y2="725.9"/><line x1="833.2" y1="719.4" x2="833.2" y2="732.4"/><rect x="190.0" y="65.0" width="681.4" height="654.4"/></g>
<text transform="translate(167.0 118.0) scale(1.0 1.04)" font-family='"Liberation Sans", sans-serif' font-size="55" text-anchor="end" fill="#000" >0.4</text><text transform="translate(167.0 263.4) scale(1.0 1.04)" font-family='"Liberation Sans", sans-serif' font-size="55" text-anchor="end" fill="#000" >0.2</text><text transform="translate(167.0 408.7) scale(1.0 1.04)" font-family='"Liberation Sans", sans-serif' font-size="55" text-anchor="end" fill="#000" >0.0</text><text transform="translate(167.0 554.0) scale(1.0 1.04)" font-family='"Liberation Sans", sans-serif' font-size="55" text-anchor="end" fill="#000" >-0.2</text><text transform="translate(167.0 699.4) scale(1.0 1.04)" font-family='"Liberation Sans", sans-serif' font-size="55" text-anchor="end" fill="#000" >-0.4</text><text transform="translate(228.0 784.4) scale(1.0 1.04)" font-family='"Liberation Sans", sans-serif' font-size="55" text-anchor="middle" fill="#000" >-8</text><text transform="translate(379.3 784.4) scale(1.0 1.04)" font-family='"Liberation Sans", sans-serif' font-size="55" text-anchor="middle" fill="#000" >-4</text><text transform="translate(530.6 784.4) scale(1.0 1.04)" font-family='"Liberation Sans", sans-serif' font-size="55" text-anchor="middle" fill="#000" >0</text><text transform="translate(681.9 784.4) scale(1.0 1.04)" font-family='"Liberation Sans", sans-serif' font-size="55" text-anchor="middle" fill="#000" >4</text><text transform="translate(833.2 784.4) scale(1.0 1.04)" font-family='"Liberation Sans", sans-serif' font-size="55" text-anchor="middle" fill="#000" >8</text>
<text transform="translate(522.0 846.6) scale(1.0 1.04)" font-family='"Liberation Sans", sans-serif' font-size="56" text-anchor="middle" fill="#000" ><tspan font-style="italic">B</tspan><tspan font-size="34" dy="13">z</tspan><tspan dy="-13"> (mT)</tspan></text>
<text transform="translate(58.5 485.8) rotate(-90) scale(1.0 1.04)" font-family='"Liberation Sans", sans-serif' font-size="56" text-anchor="start" fill="#000" ><tspan font-style="italic">I</tspan><tspan font-size="34" dy="13">dc</tspan><tspan dy="-13"> (mA)</tspan></text>
<g stroke="#000" stroke-width="2.5" fill="none"><line x1="1278.0" y1="683.0" x2="1291.0" y2="683.0"/><line x1="1284.5" y1="610.7" x2="1291.0" y2="610.7"/><line x1="1278.0" y1="538.5" x2="1291.0" y2="538.5"/><line x1="1284.5" y1="466.2" x2="1291.0" y2="466.2"/><line x1="1278.0" y1="393.9" x2="1291.0" y2="393.9"/><line x1="1284.5" y1="321.6" x2="1291.0" y2="321.6"/><line x1="1278.0" y1="249.3" x2="1291.0" y2="249.3"/><line x1="1284.5" y1="177.1" x2="1291.0" y2="177.1"/><line x1="1278.0" y1="104.8" x2="1291.0" y2="104.8"/><line x1="1328.0" y1="719.4" x2="1328.0" y2="732.4"/><line x1="1403.3" y1="719.4" x2="1403.3" y2="725.9"/><line x1="1478.5" y1="719.4" x2="1478.5" y2="732.4"/><line x1="1553.8" y1="719.4" x2="1553.8" y2="725.9"/><line x1="1629.1" y1="719.4" x2="1629.1" y2="732.4"/><line x1="1704.4" y1="719.4" x2="1704.4" y2="725.9"/><line x1="1779.7" y1="719.4" x2="1779.7" y2="732.4"/><line x1="1854.9" y1="719.4" x2="1854.9" y2="725.9"/><line x1="1930.2" y1="719.4" x2="1930.2" y2="732.4"/><rect x="1291.0" y="69.4" width="676.4" height="650.0"/></g>
<text transform="translate(1269.3 121.2) scale(1.0 1.04)" font-family='"Liberation Sans", sans-serif' font-size="55" text-anchor="end" fill="#000" >0.4</text><text transform="translate(1269.3 265.7) scale(1.0 1.04)" font-family='"Liberation Sans", sans-serif' font-size="55" text-anchor="end" fill="#000" >0.2</text><text transform="translate(1269.3 410.3) scale(1.0 1.04)" font-family='"Liberation Sans", sans-serif' font-size="55" text-anchor="end" fill="#000" >0.0</text><text transform="translate(1269.3 554.9) scale(1.0 1.04)" font-family='"Liberation Sans", sans-serif' font-size="55" text-anchor="end" fill="#000" >-0.2</text><text transform="translate(1269.3 699.4) scale(1.0 1.04)" font-family='"Liberation Sans", sans-serif' font-size="55" text-anchor="end" fill="#000" >-0.4</text><text transform="translate(1328.0 784.4) scale(1.0 1.04)" font-family='"Liberation Sans", sans-serif' font-size="55" text-anchor="middle" fill="#000" >-8</text><text transform="translate(1478.5 784.4) scale(1.0 1.04)" font-family='"Liberation Sans", sans-serif' font-size="55" text-anchor="middle" fill="#000" >-4</text><text transform="translate(1629.1 784.4) scale(1.0 1.04)" font-family='"Liberation Sans", sans-serif' font-size="55" text-anchor="middle" fill="#000" >0</text><text transform="translate(1779.7 784.4) scale(1.0 1.04)" font-family='"Liberation Sans", sans-serif' font-size="55" text-anchor="middle" fill="#000" >4</text><text transform="translate(1930.2 784.4) scale(1.0 1.04)" font-family='"Liberation Sans", sans-serif' font-size="55" text-anchor="middle" fill="#000" >8</text>
<text transform="translate(1622.0 846.6) scale(1.0 1.04)" font-family='"Liberation Sans", sans-serif' font-size="56" text-anchor="middle" fill="#000" ><tspan font-style="italic">B</tspan><tspan font-size="34" dy="13">z</tspan><tspan dy="-13"> (mT)</tspan></text>
<text transform="translate(1161.8 485.8) rotate(-90) scale(1.0 1.04)" font-family='"Liberation Sans", sans-serif' font-size="56" text-anchor="start" fill="#000" ><tspan font-style="italic">I</tspan><tspan font-size="34" dy="13">dc</tspan><tspan dy="-13"> (mA)</tspan></text>
<rect x="938.6" y="65.0" width="54.4" height="654.4" fill="url(#cbg)"/>
<rect x="938.6" y="712.2" width="54.4" height="7.2" fill="#000"/>
<rect x="938.6" y="65.0" width="54.4" height="654.4" fill="none" stroke="#000" stroke-width="1.3"/>
<g stroke="#000" stroke-width="1.4"><line x1="993.0" y1="716.6" x2="1005.2" y2="716.6"/><line x1="993.0" y1="519.9" x2="1005.2" y2="519.9"/><line x1="993.0" y1="323.2" x2="1005.2" y2="323.2"/><line x1="993.0" y1="126.5" x2="1005.2" y2="126.5"/></g>
<text transform="translate(1025.5 735.4) scale(1.0 1.04)" font-family='"Liberation Sans", sans-serif' font-size="56" text-anchor="start" fill="#000" >0</text><text transform="translate(1025.5 538.7) scale(1.0 1.04)" font-family='"Liberation Sans", sans-serif' font-size="56" text-anchor="start" fill="#000" >2</text><text transform="translate(1025.5 342.0) scale(1.0 1.04)" font-family='"Liberation Sans", sans-serif' font-size="56" text-anchor="start" fill="#000" >4</text><text transform="translate(1025.5 145.3) scale(1.0 1.04)" font-family='"Liberation Sans", sans-serif' font-size="56" text-anchor="start" fill="#000" >6</text>
<text transform="translate(820.0 42.2) scale(1.0 1.05)" font-family='"Liberation Sans", sans-serif' font-size="55.4" text-anchor="start" fill="#000" ><tspan font-style="italic">dV/dI</tspan> (Ω)</text>
<rect x="2029.8" y="69.4" width="53.4" height="650.0" fill="url(#cbg)"/>
<rect x="2029.8" y="712.2" width="53.4" height="7.2" fill="#000"/>
<rect x="2029.8" y="69.4" width="53.4" height="650.0" fill="none" stroke="#000" stroke-width="1.3"/>
<g stroke="#000" stroke-width="1.4"><line x1="2083.2" y1="716.9" x2="2095.4" y2="716.9"/><line x1="2083.2" y1="521.2" x2="2095.4" y2="521.2"/><line x1="2083.2" y1="325.6" x2="2095.4" y2="325.6"/><line x1="2083.2" y1="129.9" x2="2095.4" y2="129.9"/></g>
<text transform="translate(2115.5 735.7) scale(1.0 1.04)" font-family='"Liberation Sans", sans-serif' font-size="56" text-anchor="start" fill="#000" >0</text><text transform="translate(2115.5 540.0) scale(1.0 1.04)" font-family='"Liberation Sans", sans-serif' font-size="56" text-anchor="start" fill="#000" >2</text><text transform="translate(2115.5 344.4) scale(1.0 1.04)" font-family='"Liberation Sans", sans-serif' font-size="56" text-anchor="start" fill="#000" >4</text><text transform="translate(2115.5 148.7) scale(1.0 1.04)" font-family='"Liberation Sans", sans-serif' font-size="56" text-anchor="start" fill="#000" >6</text>
<text transform="translate(1946.0 42.2) scale(1.0 1.05)" font-family='"Liberation Sans", sans-serif' font-size="55.4" text-anchor="start" fill="#000" ><tspan font-style="italic">dV/dI</tspan> (Ω)</text>
<text transform="translate(7.6 63.6) scale(0.925 1.07)" font-family='"Liberation Sans", sans-serif' font-size="68" text-anchor="start" fill="#000" font-weight="bold">a</text>
<text transform="translate(1120.0 63.0) scale(1.0 1.0)" font-family='"Liberation Sans", sans-serif' font-size="68" text-anchor="start" fill="#000" font-weight="bold">b</text>
</svg>
</body></html>
